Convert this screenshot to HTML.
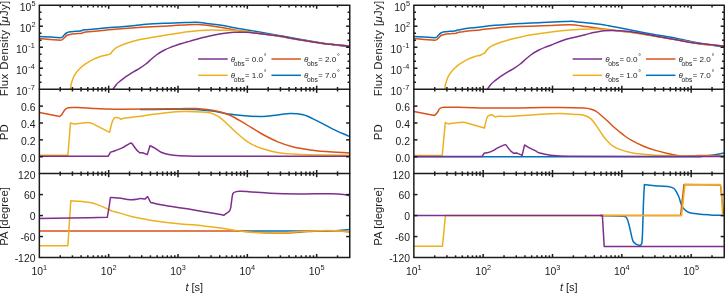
<!DOCTYPE html>
<html><head><meta charset="utf-8"><style>
html,body{margin:0;padding:0;background:#fff;}
svg{display:block;will-change:transform;}
text{font-family:"Liberation Sans", sans-serif;fill:#1c1c1c;}
</style></head><body>
<svg width="725" height="293" viewBox="0 0 725 293">
<rect width="725" height="293" fill="#fff"/>
<path d="M39.50,36.60 C43.00,36.77 46.50,36.92 50.00,37.10 C53.50,37.28 57.00,37.50 60.50,37.70 C61.17,37.47 61.96,37.42 62.50,37.00 C63.26,36.42 63.70,35.40 64.40,34.70 C65.03,34.07 65.74,33.47 66.50,33.00 C67.21,32.57 67.99,32.16 68.80,32.00 C70.82,31.60 72.93,31.48 75.00,31.30 C76.73,31.15 78.48,31.16 80.20,31.00 C80.64,30.96 81.07,30.80 81.50,30.70 C82.03,30.50 82.55,30.22 83.10,30.10 C83.88,29.92 84.70,29.88 85.50,29.80 C87.00,29.65 88.50,29.53 90.00,29.40 C93.33,29.10 96.67,28.80 100.00,28.50 C103.33,28.20 106.67,27.88 110.00,27.60 C113.00,27.35 116.00,27.15 119.00,26.90 C124.33,26.45 129.67,26.01 135.00,25.50 C138.67,25.15 142.32,24.56 146.00,24.30 C153.32,23.79 160.66,23.52 168.00,23.20 C173.66,22.95 179.33,22.78 185.00,22.60 C188.93,22.48 192.88,22.16 196.80,22.30 C200.11,22.42 203.40,22.99 206.70,23.40 C213.14,24.19 219.60,24.88 226.00,25.90 C228.83,26.35 231.58,27.28 234.40,27.80 C241.78,29.15 249.21,30.22 256.60,31.50 C264.01,32.78 271.40,34.17 278.80,35.50 C286.20,36.83 293.59,38.20 301.00,39.50 C308.39,40.80 315.78,42.16 323.20,43.30 C332.05,44.66 340.93,45.77 349.80,47.00" fill="none" stroke="#0072BD" stroke-width="1.5" stroke-linejoin="round" stroke-linecap="butt"/>
<path d="M39.50,38.60 C43.00,38.87 46.50,39.13 50.00,39.40 C53.50,39.67 57.02,40.11 60.50,40.20 C61.09,40.21 61.63,39.87 62.20,39.70 C62.97,39.07 63.78,38.48 64.50,37.80 C65.25,37.08 65.71,35.96 66.60,35.50 C68.24,34.66 70.23,34.21 72.10,33.90 C74.03,33.58 76.04,33.73 78.00,33.60 C79.17,33.53 80.33,33.40 81.50,33.30 C82.17,33.07 82.82,32.78 83.50,32.60 C84.32,32.38 85.16,32.20 86.00,32.10 C88.99,31.74 92.00,31.50 95.00,31.20 C98.33,30.87 101.67,30.53 105.00,30.20 C108.33,29.87 111.66,29.48 115.00,29.20 C121.66,28.64 128.33,28.15 135.00,27.70 C138.66,27.45 142.33,27.30 146.00,27.10 C153.33,26.70 160.67,26.31 168.00,25.90 C173.67,25.58 179.33,25.20 185.00,24.90 C188.93,24.70 192.87,24.35 196.80,24.40 C200.10,24.45 203.42,24.77 206.70,25.20 C213.15,26.04 219.58,27.11 226.00,28.20 C228.82,28.68 231.58,29.45 234.40,29.90 C240.31,30.85 246.27,31.56 252.20,32.40 C261.07,33.66 269.95,34.80 278.80,36.20 C286.22,37.37 293.58,38.90 301.00,40.10 C308.38,41.30 315.78,42.46 323.20,43.40 C332.05,44.52 340.93,45.33 349.80,46.30" fill="none" stroke="#D95319" stroke-width="1.5" stroke-linejoin="round" stroke-linecap="butt"/>
<path d="M70.50,89.50 C70.60,88.33 70.65,87.16 70.80,86.00 C70.91,85.13 71.02,84.23 71.30,83.40 C72.18,80.80 72.98,78.09 74.30,75.70 C75.52,73.49 77.17,71.45 78.90,69.60 C80.77,67.61 82.88,65.79 85.10,64.20 C87.52,62.46 90.14,60.94 92.80,59.60 C95.24,58.37 97.81,57.36 100.40,56.50 C102.41,55.83 104.54,55.52 106.60,55.00 C107.84,54.69 109.07,54.33 110.30,54.00 C111.10,53.00 111.85,51.95 112.70,51.00 C113.55,50.05 114.38,49.04 115.40,48.30 C116.48,47.51 117.76,46.95 119.00,46.40 C121.53,45.28 124.09,44.20 126.70,43.30 C130.05,42.14 133.46,41.06 136.90,40.20 C140.29,39.36 143.76,38.83 147.20,38.20 C150.13,37.66 153.07,37.19 156.00,36.70 C160.00,36.03 163.99,35.33 168.00,34.70 C171.99,34.07 175.99,33.46 180.00,32.90 C183.36,32.43 186.73,31.99 190.10,31.60 C193.39,31.22 196.69,30.87 200.00,30.60 C203.33,30.33 206.66,30.04 210.00,30.00 C215.33,29.94 220.67,30.21 226.00,30.30 C228.80,30.35 231.61,30.26 234.40,30.40 C238.11,30.59 241.82,30.87 245.50,31.30 C249.22,31.74 252.90,32.46 256.60,33.00 C264.00,34.09 271.42,35.02 278.80,36.20 C286.22,37.39 293.58,38.90 301.00,40.10 C308.38,41.30 315.78,42.46 323.20,43.40 C332.05,44.52 340.93,45.33 349.80,46.30" fill="none" stroke="#EDB120" stroke-width="1.5" stroke-linejoin="round" stroke-linecap="butt"/>
<path d="M112.90,89.50 C113.93,87.97 114.82,86.31 116.00,84.90 C117.05,83.64 118.34,82.56 119.60,81.50 C121.11,80.23 122.70,79.05 124.30,77.90 C125.86,76.78 127.48,75.74 129.10,74.70 C130.68,73.68 132.29,72.68 133.90,71.70 C135.89,70.48 137.94,69.37 139.90,68.10 C141.91,66.80 143.90,65.45 145.80,64.00 C147.26,62.88 148.60,61.60 150.00,60.40 C152.10,58.60 154.06,56.61 156.30,55.00 C158.89,53.14 161.68,51.49 164.50,50.00 C166.84,48.76 169.34,47.79 171.80,46.80 C173.30,46.19 174.85,45.69 176.40,45.20 C179.25,44.29 182.13,43.46 185.00,42.60 C186.67,42.10 188.33,41.58 190.00,41.10 C193.66,40.05 197.31,38.93 201.00,38.00 C204.71,37.06 208.46,36.28 212.20,35.50 C215.79,34.75 219.37,33.92 223.00,33.40 C226.77,32.86 230.59,32.49 234.40,32.30 C238.09,32.12 241.81,32.13 245.50,32.30 C249.21,32.47 252.91,32.88 256.60,33.30 C264.01,34.15 271.43,34.97 278.80,36.10 C286.23,37.24 293.58,38.88 301.00,40.10 C308.38,41.31 315.78,42.47 323.20,43.40 C332.04,44.51 340.93,45.27 349.80,46.20" fill="none" stroke="#7E2F8E" stroke-width="1.5" stroke-linejoin="round" stroke-linecap="butt"/>
<path d="M140.00,109.50 C145.00,109.50 150.00,109.54 155.00,109.50 C163.33,109.44 171.67,109.22 180.00,109.20 C185.40,109.19 190.81,109.08 196.20,109.40 C201.61,109.72 207.03,110.34 212.40,111.10 C217.86,111.87 223.24,113.21 228.70,114.00 C234.07,114.78 239.49,115.40 244.90,115.80 C250.29,116.20 255.71,116.55 261.10,116.40 C266.51,116.25 271.91,115.45 277.30,114.90 C281.64,114.45 285.96,113.42 290.30,113.40 C294.63,113.38 299.14,113.68 303.30,114.80 C307.77,116.01 311.98,118.37 316.20,120.40 C321.68,123.04 326.93,126.15 332.40,128.80 C338.09,131.55 343.93,134.00 349.70,136.60" fill="none" stroke="#0072BD" stroke-width="1.5" stroke-linejoin="round" stroke-linecap="butt"/>
<path d="M39.50,112.40 L59.70,116.50 C60.47,115.73 61.33,115.05 62.00,114.20 C63.13,112.75 63.85,110.91 65.10,109.60 C65.92,108.74 67.04,107.89 68.20,107.70 C71.14,107.22 74.34,107.51 77.40,107.60 C82.54,107.75 87.67,108.15 92.80,108.40 C97.90,108.65 103.00,108.92 108.10,109.10 C111.73,109.22 115.37,109.31 119.00,109.30 C131.00,109.27 143.00,109.12 155.00,109.00 C163.33,108.92 171.67,108.80 180.00,108.70 C185.40,108.63 190.82,108.23 196.20,108.50 C201.62,108.77 207.08,109.27 212.40,110.30 C217.92,111.37 223.52,112.68 228.70,114.80 C234.35,117.11 239.58,120.53 244.90,123.60 C250.38,126.76 255.57,130.43 261.10,133.50 C266.37,136.43 271.75,139.27 277.30,141.60 C282.55,143.80 287.99,145.69 293.50,147.10 C298.79,148.46 304.27,149.17 309.70,149.90 C315.11,150.63 320.56,151.06 326.00,151.50 C333.89,152.13 341.80,152.57 349.70,153.10" fill="none" stroke="#D95319" stroke-width="1.5" stroke-linejoin="round" stroke-linecap="butt"/>
<path d="M39.50,155.30 L67.90,155.30 L70.50,123.00 L74.30,123.90 C78.90,123.47 83.52,122.73 88.10,122.60 C89.42,122.56 90.70,123.13 92.00,123.40 L109.60,132.30 C110.40,129.07 110.97,125.75 112.00,122.60 C112.53,120.98 113.25,119.15 114.30,118.00 C114.78,117.48 115.83,117.66 116.60,117.60 C117.10,117.56 117.60,117.67 118.10,117.70 L121.10,119.30 L123.40,118.30 C128.27,117.70 133.14,117.16 138.00,116.50 C143.14,115.80 148.26,114.88 153.40,114.20 C158.52,113.52 163.65,112.84 168.80,112.40 C173.89,111.97 179.00,111.74 184.10,111.60 C187.73,111.50 191.37,111.58 195.00,111.70 C198.47,111.81 201.95,111.92 205.40,112.30 C207.75,112.56 210.19,112.80 212.40,113.60 C215.06,114.57 217.69,115.94 220.00,117.60 C223.12,119.84 225.85,122.68 228.70,125.30 C231.35,127.74 233.81,130.40 236.50,132.80 C239.21,135.23 241.98,137.63 244.90,139.80 C247.15,141.47 249.52,143.01 252.00,144.30 C254.92,145.81 257.97,147.20 261.10,148.20 C266.40,149.90 271.83,151.40 277.30,152.40 C282.46,153.34 287.76,153.63 293.00,154.00 C298.56,154.39 304.13,154.58 309.70,154.70 C323.03,154.98 336.37,155.03 349.70,155.20" fill="none" stroke="#EDB120" stroke-width="1.5" stroke-linejoin="round" stroke-linecap="butt"/>
<path d="M39.50,156.30 L108.10,156.30 L110.40,152.30 C111.17,152.03 111.93,151.77 112.70,151.50 C113.47,151.23 114.24,150.99 115.00,150.70 C117.57,149.72 120.24,148.91 122.70,147.70 C125.37,146.38 127.79,144.29 130.40,143.10 C130.85,142.89 131.40,143.37 131.90,143.50 C133.43,145.57 134.85,147.73 136.50,149.70 C137.42,150.80 138.57,151.70 139.60,152.70 L142.60,152.70 L147.30,154.60 L150.00,145.70 C151.63,146.50 153.34,147.17 154.90,148.10 C157.04,149.37 158.87,151.25 161.10,152.30 C163.50,153.42 166.18,154.10 168.80,154.60 C172.31,155.27 175.92,155.57 179.50,155.80 C184.65,156.13 189.83,156.28 195.00,156.30 C246.56,156.45 298.13,156.30 349.70,156.30" fill="none" stroke="#7E2F8E" stroke-width="1.5" stroke-linejoin="round" stroke-linecap="butt"/>
<path d="M236.00,231.00 C238.33,231.03 240.67,231.09 243.00,231.10 C252.00,231.13 261.00,231.10 270.00,231.10 C283.83,231.10 297.67,231.16 311.50,231.10 C319.17,231.06 326.84,231.10 334.50,230.80 C339.58,230.60 344.63,230.00 349.70,229.60" fill="none" stroke="#0072BD" stroke-width="1.5" stroke-linejoin="round" stroke-linecap="butt"/>
<path d="M39.50,231.00 C105.67,231.00 171.85,230.63 238.00,231.00 C243.68,231.03 249.33,231.85 255.00,232.20 C260.00,232.51 265.00,232.85 270.00,233.00 C275.13,233.15 280.27,233.29 285.40,233.10 C293.07,232.82 300.73,232.06 308.40,231.60 C313.53,231.29 318.66,230.95 323.80,230.80 C327.86,230.68 331.94,230.63 336.00,230.80 C340.57,230.99 345.13,231.53 349.70,231.90" fill="none" stroke="#D95319" stroke-width="1.5" stroke-linejoin="round" stroke-linecap="butt"/>
<path d="M39.50,245.70 L67.90,245.70 L70.80,200.70 C73.87,200.90 76.94,201.03 80.00,201.30 C82.67,201.53 85.35,201.82 88.00,202.20 C89.78,202.45 91.57,202.73 93.30,203.20 C94.90,203.63 96.44,204.31 98.00,204.90 C99.68,205.54 101.35,206.20 103.00,206.90 C104.35,207.47 105.69,208.06 107.00,208.70 C108.02,209.19 108.97,209.85 110.00,210.30 C110.80,210.65 111.66,210.86 112.50,211.10 C113.32,211.33 114.17,211.48 115.00,211.70 C116.67,212.15 118.34,212.62 120.00,213.10 C123.84,214.22 127.62,215.56 131.50,216.50 C136.18,217.63 140.96,218.41 145.70,219.30 C148.93,219.91 152.15,220.54 155.40,221.00 C162.38,221.98 169.38,222.89 176.40,223.60 C182.92,224.26 189.47,224.51 196.00,225.10 C199.14,225.38 202.27,225.83 205.40,226.20 C210.50,226.80 215.62,227.27 220.70,228.00 C225.85,228.74 230.95,229.88 236.10,230.60 C241.18,231.31 246.28,231.95 251.40,232.30 C257.58,232.72 263.80,232.83 270.00,232.90 C275.13,232.96 280.27,232.92 285.40,232.70 C290.51,232.48 295.60,231.89 300.70,231.60 C307.36,231.22 314.03,230.85 320.70,230.70 C325.80,230.58 330.91,230.59 336.00,230.80 C340.57,230.99 345.13,231.53 349.70,231.90" fill="none" stroke="#EDB120" stroke-width="1.5" stroke-linejoin="round" stroke-linecap="butt"/>
<path d="M39.50,218.50 C49.57,218.33 59.63,218.18 69.70,218.00 C82.23,217.78 94.77,217.53 107.30,217.30 C107.83,214.20 108.41,211.11 108.90,208.00 C109.44,204.54 109.90,201.07 110.40,197.60 C111.93,197.63 113.47,197.63 115.00,197.70 C116.34,197.76 117.67,197.83 119.00,198.00 C122.81,198.49 126.59,199.48 130.40,199.70 C132.92,199.85 135.49,199.43 138.00,199.10 C138.56,199.03 139.04,198.50 139.60,198.50 C141.38,198.50 143.20,198.90 145.00,199.10 L147.60,196.50 L150.60,202.40 C154.10,203.17 157.58,204.03 161.10,204.70 C166.18,205.66 171.29,206.49 176.40,207.30 C180.92,208.02 185.47,208.58 190.00,209.30 C195.14,210.12 200.27,211.03 205.40,211.90 C210.50,212.76 215.62,213.56 220.70,214.50 C221.75,214.69 222.77,215.03 223.80,215.30 C225.83,213.63 228.67,212.44 229.90,210.30 C231.24,207.98 230.99,204.70 231.50,201.90 C232.02,199.07 231.92,195.83 233.00,193.40 C233.45,192.39 234.98,191.91 236.10,191.60 C237.54,191.21 239.17,191.29 240.70,191.30 C243.27,191.32 245.84,191.53 248.40,191.70 C255.60,192.17 262.79,192.90 270.00,193.20 C280.22,193.63 290.47,193.80 300.70,193.90 C310.93,194.00 321.17,193.66 331.40,193.80 C335.50,193.86 339.62,194.10 343.70,194.50 C345.72,194.70 347.70,195.23 349.70,195.60" fill="none" stroke="#7E2F8E" stroke-width="1.5" stroke-linejoin="round" stroke-linecap="butt"/>
<path d="M413.90,36.60 C417.40,36.77 420.90,36.92 424.40,37.10 C427.90,37.28 431.40,37.50 434.90,37.70 C435.57,37.47 436.36,37.42 436.90,37.00 C437.66,36.42 438.10,35.40 438.80,34.70 C439.43,34.07 440.14,33.47 440.90,33.00 C441.61,32.57 442.39,32.16 443.20,32.00 C445.22,31.60 447.33,31.48 449.40,31.30 C451.13,31.15 452.88,31.16 454.60,31.00 C455.04,30.96 455.47,30.80 455.90,30.70 C456.43,30.50 456.95,30.22 457.50,30.10 C458.28,29.92 459.11,29.94 459.90,29.80 C461.94,29.44 463.95,28.91 466.00,28.60 C468.32,28.25 470.67,28.07 473.00,27.80 C475.33,27.53 477.67,27.29 480.00,27.00 C481.40,26.82 482.80,26.56 484.20,26.40 C487.80,25.99 491.40,25.63 495.00,25.30 C498.73,24.96 502.46,24.65 506.20,24.40 C510.80,24.09 515.40,23.86 520.00,23.60 C527.33,23.19 534.66,22.73 542.00,22.40 C549.36,22.07 556.73,21.87 564.10,21.60 C566.70,21.50 569.31,21.19 571.90,21.30 C574.84,21.42 577.76,21.99 580.70,22.30 C587.13,22.99 593.58,23.51 600.00,24.30 C602.82,24.65 605.61,25.18 608.40,25.70 C615.81,27.08 623.20,28.58 630.60,30.00 C638.00,31.42 645.39,32.85 652.80,34.20 C660.19,35.55 667.62,36.67 675.00,38.10 C682.42,39.54 689.76,41.44 697.20,42.80 C706.13,44.44 715.13,45.67 724.10,47.10" fill="none" stroke="#0072BD" stroke-width="1.5" stroke-linejoin="round" stroke-linecap="butt"/>
<path d="M413.90,38.60 C417.40,38.87 420.90,39.13 424.40,39.40 C427.90,39.67 431.42,40.11 434.90,40.20 C435.49,40.21 436.03,39.87 436.60,39.70 C437.37,39.07 438.18,38.48 438.90,37.80 C439.65,37.08 440.11,35.96 441.00,35.50 C442.64,34.66 444.63,34.21 446.50,33.90 C448.43,33.58 450.44,33.73 452.40,33.60 C453.57,33.53 454.73,33.40 455.90,33.30 C456.57,33.07 457.22,32.78 457.90,32.60 C458.72,32.38 459.56,32.24 460.40,32.10 C462.26,31.78 464.12,31.42 466.00,31.20 C468.32,30.92 470.67,30.82 473.00,30.60 C475.33,30.38 477.67,30.17 480.00,29.90 C481.40,29.74 482.80,29.46 484.20,29.30 C487.80,28.89 491.40,28.53 495.00,28.20 C498.73,27.86 502.46,27.54 506.20,27.30 C510.80,27.01 515.40,26.79 520.00,26.60 C527.33,26.29 534.67,26.09 542.00,25.80 C548.00,25.56 554.00,25.24 560.00,25.00 C563.23,24.87 566.47,24.72 569.70,24.70 C571.53,24.69 573.38,24.69 575.20,24.90 C578.88,25.32 582.53,26.07 586.20,26.60 C590.80,27.27 595.40,27.88 600.00,28.50 C602.80,28.88 605.60,29.23 608.40,29.60 C612.10,30.09 615.79,30.65 619.50,31.10 C623.19,31.55 626.91,31.79 630.60,32.30 C638.01,33.32 645.41,34.49 652.80,35.70 C660.21,36.92 667.60,38.32 675.00,39.60 C682.40,40.88 689.76,42.40 697.20,43.40 C706.13,44.60 715.13,45.27 724.10,46.20" fill="none" stroke="#D95319" stroke-width="1.5" stroke-linejoin="round" stroke-linecap="butt"/>
<path d="M444.90,89.50 C445.00,88.33 445.05,87.16 445.20,86.00 C445.31,85.13 445.42,84.23 445.70,83.40 C446.58,80.80 447.38,78.09 448.70,75.70 C449.92,73.49 451.57,71.45 453.30,69.60 C455.17,67.61 457.28,65.79 459.50,64.20 C461.92,62.46 464.54,60.94 467.20,59.60 C469.64,58.37 472.21,57.36 474.80,56.50 C476.81,55.83 479.01,55.70 481.00,55.00 C482.31,54.54 483.47,53.67 484.70,53.00 C485.60,51.80 486.35,50.45 487.40,49.40 C488.62,48.18 489.98,47.01 491.50,46.20 C494.42,44.64 497.57,43.43 500.70,42.30 C504.04,41.10 507.47,40.10 510.90,39.20 C514.30,38.30 517.76,37.64 521.20,36.90 C524.13,36.27 527.05,35.62 530.00,35.10 C533.99,34.39 537.99,33.79 542.00,33.20 C545.66,32.66 549.33,32.15 553.00,31.70 C556.69,31.25 560.39,30.82 564.10,30.50 C569.63,30.02 575.16,29.53 580.70,29.30 C586.23,29.07 591.77,28.96 597.30,29.10 C601.01,29.19 604.70,29.67 608.40,30.00 C612.10,30.33 615.80,30.72 619.50,31.10 C623.20,31.48 626.91,31.79 630.60,32.30 C638.01,33.32 645.41,34.49 652.80,35.70 C660.21,36.92 667.60,38.32 675.00,39.60 C682.40,40.88 689.76,42.40 697.20,43.40 C706.13,44.60 715.13,45.27 724.10,46.20" fill="none" stroke="#EDB120" stroke-width="1.5" stroke-linejoin="round" stroke-linecap="butt"/>
<path d="M487.30,89.50 C488.33,87.97 489.22,86.31 490.40,84.90 C491.45,83.64 492.74,82.56 494.00,81.50 C495.51,80.23 497.10,79.05 498.70,77.90 C500.26,76.78 501.88,75.74 503.50,74.70 C505.08,73.68 506.69,72.68 508.30,71.70 C510.29,70.48 512.34,69.37 514.30,68.10 C516.31,66.80 518.30,65.45 520.20,64.00 C521.66,62.88 523.00,61.60 524.40,60.40 C526.50,58.60 528.46,56.61 530.70,55.00 C533.29,53.14 536.08,51.49 538.90,50.00 C541.24,48.76 543.74,47.79 546.20,46.80 C547.70,46.19 549.28,45.78 550.80,45.20 C555.22,43.51 559.52,41.48 564.00,40.00 C567.59,38.81 571.33,38.13 575.00,37.20 C578.73,36.26 582.46,35.32 586.20,34.40 C589.13,33.68 592.05,32.90 595.00,32.30 C597.98,31.70 600.98,31.07 604.00,30.80 C607.68,30.47 611.41,30.36 615.10,30.50 C620.27,30.69 625.46,31.12 630.60,31.80 C638.03,32.79 645.41,34.22 652.80,35.50 C660.21,36.78 667.59,38.20 675.00,39.50 C682.39,40.80 689.76,42.32 697.20,43.30 C706.13,44.48 715.13,45.10 724.10,46.00" fill="none" stroke="#7E2F8E" stroke-width="1.5" stroke-linejoin="round" stroke-linecap="butt"/>
<path d="M413.90,156.80 C509.27,156.80 604.65,157.06 700.00,156.80 C701.82,156.80 703.60,156.24 705.40,156.00 C709.00,155.51 712.62,155.17 716.20,154.60 C718.85,154.17 721.47,153.53 724.10,153.00" fill="none" stroke="#0072BD" stroke-width="1.5" stroke-linejoin="round" stroke-linecap="butt"/>
<path d="M413.90,111.40 L434.50,115.40 C435.33,114.60 436.29,113.90 437.00,113.00 C438.09,111.60 438.62,109.59 439.90,108.50 C440.85,107.69 442.38,107.38 443.70,107.30 C448.78,106.98 453.97,107.22 459.10,107.30 C470.40,107.48 481.70,108.02 493.00,108.10 C505.33,108.19 517.67,107.93 530.00,107.80 C540.00,107.70 550.00,107.34 560.00,107.40 C567.97,107.44 575.95,107.64 583.90,108.10 C586.29,108.24 588.70,108.60 591.00,109.20 C592.67,109.63 594.33,110.32 595.80,111.20 C597.66,112.32 599.33,113.79 601.00,115.20 C603.33,117.16 605.57,119.23 607.80,121.30 C609.74,123.10 611.54,125.04 613.50,126.80 C615.50,128.60 617.60,130.30 619.70,132.00 C621.60,133.54 623.50,135.09 625.50,136.50 C627.47,137.89 629.48,139.25 631.60,140.40 C635.51,142.52 639.50,144.58 643.60,146.30 C647.46,147.92 651.49,149.19 655.50,150.40 C659.45,151.59 663.47,152.61 667.50,153.50 C671.44,154.37 675.40,155.31 679.40,155.70 C683.33,156.08 687.33,155.84 691.30,155.80 C696.87,155.74 702.44,155.35 708.00,155.40 C713.37,155.45 718.73,155.87 724.10,156.10" fill="none" stroke="#D95319" stroke-width="1.5" stroke-linejoin="round" stroke-linecap="butt"/>
<path d="M413.90,155.50 L442.20,155.50 L445.30,122.60 L448.30,123.90 C453.43,123.37 458.58,122.55 463.70,122.30 C464.75,122.25 465.77,122.77 466.80,123.00 L484.40,128.00 C485.43,124.17 485.90,119.86 487.50,116.50 C487.96,115.53 489.54,115.42 490.60,115.00 C491.07,114.82 491.60,114.80 492.10,114.70 L495.10,117.00 C496.13,116.73 497.15,116.26 498.20,116.20 C500.25,116.09 502.33,116.55 504.40,116.50 C509.50,116.38 514.60,116.00 519.70,115.70 C524.84,115.40 529.97,115.03 535.10,114.70 C540.20,114.37 545.30,113.97 550.40,113.70 C553.60,113.53 556.80,113.31 560.00,113.40 C565.00,113.54 570.01,114.00 575.00,114.40 C577.97,114.64 581.08,114.51 583.90,115.30 C586.41,116.01 589.09,117.15 591.00,118.90 C593.86,121.52 595.90,125.16 598.20,128.40 C599.90,130.80 601.27,133.43 603.00,135.80 C604.47,137.83 606.07,139.80 607.80,141.60 C609.40,143.26 611.08,144.94 613.00,146.20 C615.05,147.54 617.38,148.58 619.70,149.40 C623.58,150.78 627.57,151.97 631.60,152.80 C635.54,153.61 639.59,153.90 643.60,154.30 C647.56,154.70 651.53,155.00 655.50,155.20 C663.46,155.60 671.43,155.97 679.40,156.10 C694.30,156.34 709.20,156.23 724.10,156.30" fill="none" stroke="#EDB120" stroke-width="1.5" stroke-linejoin="round" stroke-linecap="butt"/>
<path d="M413.90,156.40 L482.10,156.40 L484.40,153.00 C485.70,152.87 487.05,152.93 488.30,152.60 C489.92,152.17 491.49,151.45 493.00,150.70 C494.29,150.05 495.41,149.06 496.70,148.40 C499.21,147.12 501.80,145.89 504.40,144.90 C504.86,144.72 505.40,144.90 505.90,144.90 C507.43,146.83 508.84,148.89 510.50,150.70 C511.41,151.69 512.57,152.43 513.60,153.30 L516.60,153.00 C518.17,153.63 519.83,154.14 521.30,154.90 C521.63,155.07 521.77,155.50 522.00,155.80 L524.60,144.90 C526.03,145.83 527.41,146.87 528.90,147.70 C530.91,148.81 533.04,149.69 535.10,150.70 C536.64,151.46 538.07,152.52 539.70,153.00 C543.17,154.02 546.79,154.79 550.40,155.20 C556.56,155.89 562.79,156.26 569.00,156.30 C620.69,156.66 672.40,156.37 724.10,156.40" fill="none" stroke="#7E2F8E" stroke-width="1.5" stroke-linejoin="round" stroke-linecap="butt"/>
<path d="M600.00,215.60 C608.00,215.80 616.22,215.36 624.00,216.20 C625.22,216.33 626.49,217.40 627.00,218.50 C628.49,221.67 629.07,225.48 630.00,229.00 C631.07,233.02 631.51,237.34 633.00,241.10 C633.51,242.38 634.82,243.39 636.00,244.10 C637.32,244.89 639.00,245.10 640.50,245.60 C641.00,244.60 641.92,243.71 642.00,242.60 C642.92,229.17 642.94,215.53 643.50,202.00 C643.74,196.20 644.10,190.40 644.40,184.60 C645.60,184.70 646.80,184.78 648.00,184.90 C652.00,185.28 655.99,185.80 660.00,186.10 C662.66,186.30 665.40,185.95 668.00,186.40 C670.07,186.75 672.53,187.15 674.00,188.50 C676.03,190.35 677.30,193.36 678.50,196.00 C679.80,198.86 680.23,202.13 681.50,205.00 C682.23,206.63 683.25,208.25 684.50,209.50 C685.75,210.75 687.33,211.94 689.00,212.50 C691.83,213.44 694.98,213.66 698.00,214.00 C701.98,214.46 706.00,214.67 710.00,214.90 C714.70,215.17 719.40,215.30 724.10,215.50" fill="none" stroke="#0072BD" stroke-width="1.5" stroke-linejoin="round" stroke-linecap="butt"/>
<path d="M600.00,215.60 L680.60,215.40 L684.00,184.40 L720.50,185.00 L723.50,214.20" fill="none" stroke="#D95319" stroke-width="1.5" stroke-linejoin="round" stroke-linecap="butt"/>
<path d="M413.90,246.30 L442.50,246.30 L445.40,215.60 L681.60,215.40 L685.00,184.40 L720.10,184.40 C720.50,185.83 721.18,187.22 721.30,188.70 C721.98,197.09 722.10,205.57 722.50,214.00" fill="none" stroke="#EDB120" stroke-width="1.5" stroke-linejoin="round" stroke-linecap="butt"/>
<path d="M413.90,215.60 L602.40,215.60 L604.20,246.50 L724.10,246.50" fill="none" stroke="#7E2F8E" stroke-width="1.5" stroke-linejoin="round" stroke-linecap="butt"/>
<line x1="60.22" y1="89.25" x2="60.22" y2="87.05" stroke="#1c1c1c" stroke-width="1.5"/>
<line x1="60.22" y1="5.20" x2="60.22" y2="7.40" stroke="#1c1c1c" stroke-width="1.5"/>
<line x1="72.43" y1="89.25" x2="72.43" y2="87.05" stroke="#1c1c1c" stroke-width="1.5"/>
<line x1="72.43" y1="5.20" x2="72.43" y2="7.40" stroke="#1c1c1c" stroke-width="1.5"/>
<line x1="81.09" y1="89.25" x2="81.09" y2="87.05" stroke="#1c1c1c" stroke-width="1.5"/>
<line x1="81.09" y1="5.20" x2="81.09" y2="7.40" stroke="#1c1c1c" stroke-width="1.5"/>
<line x1="87.81" y1="89.25" x2="87.81" y2="87.05" stroke="#1c1c1c" stroke-width="1.5"/>
<line x1="87.81" y1="5.20" x2="87.81" y2="7.40" stroke="#1c1c1c" stroke-width="1.5"/>
<line x1="93.30" y1="89.25" x2="93.30" y2="87.05" stroke="#1c1c1c" stroke-width="1.5"/>
<line x1="93.30" y1="5.20" x2="93.30" y2="7.40" stroke="#1c1c1c" stroke-width="1.5"/>
<line x1="97.94" y1="89.25" x2="97.94" y2="87.05" stroke="#1c1c1c" stroke-width="1.5"/>
<line x1="97.94" y1="5.20" x2="97.94" y2="7.40" stroke="#1c1c1c" stroke-width="1.5"/>
<line x1="101.96" y1="89.25" x2="101.96" y2="87.05" stroke="#1c1c1c" stroke-width="1.5"/>
<line x1="101.96" y1="5.20" x2="101.96" y2="7.40" stroke="#1c1c1c" stroke-width="1.5"/>
<line x1="105.51" y1="89.25" x2="105.51" y2="87.05" stroke="#1c1c1c" stroke-width="1.5"/>
<line x1="105.51" y1="5.20" x2="105.51" y2="7.40" stroke="#1c1c1c" stroke-width="1.5"/>
<line x1="108.68" y1="89.25" x2="108.68" y2="85.65" stroke="#1c1c1c" stroke-width="1.5"/>
<line x1="108.68" y1="5.20" x2="108.68" y2="8.80" stroke="#1c1c1c" stroke-width="1.5"/>
<line x1="129.55" y1="89.25" x2="129.55" y2="87.05" stroke="#1c1c1c" stroke-width="1.5"/>
<line x1="129.55" y1="5.20" x2="129.55" y2="7.40" stroke="#1c1c1c" stroke-width="1.5"/>
<line x1="141.76" y1="89.25" x2="141.76" y2="87.05" stroke="#1c1c1c" stroke-width="1.5"/>
<line x1="141.76" y1="5.20" x2="141.76" y2="7.40" stroke="#1c1c1c" stroke-width="1.5"/>
<line x1="150.42" y1="89.25" x2="150.42" y2="87.05" stroke="#1c1c1c" stroke-width="1.5"/>
<line x1="150.42" y1="5.20" x2="150.42" y2="7.40" stroke="#1c1c1c" stroke-width="1.5"/>
<line x1="157.14" y1="89.25" x2="157.14" y2="87.05" stroke="#1c1c1c" stroke-width="1.5"/>
<line x1="157.14" y1="5.20" x2="157.14" y2="7.40" stroke="#1c1c1c" stroke-width="1.5"/>
<line x1="162.63" y1="89.25" x2="162.63" y2="87.05" stroke="#1c1c1c" stroke-width="1.5"/>
<line x1="162.63" y1="5.20" x2="162.63" y2="7.40" stroke="#1c1c1c" stroke-width="1.5"/>
<line x1="167.27" y1="89.25" x2="167.27" y2="87.05" stroke="#1c1c1c" stroke-width="1.5"/>
<line x1="167.27" y1="5.20" x2="167.27" y2="7.40" stroke="#1c1c1c" stroke-width="1.5"/>
<line x1="171.29" y1="89.25" x2="171.29" y2="87.05" stroke="#1c1c1c" stroke-width="1.5"/>
<line x1="171.29" y1="5.20" x2="171.29" y2="7.40" stroke="#1c1c1c" stroke-width="1.5"/>
<line x1="174.84" y1="89.25" x2="174.84" y2="87.05" stroke="#1c1c1c" stroke-width="1.5"/>
<line x1="174.84" y1="5.20" x2="174.84" y2="7.40" stroke="#1c1c1c" stroke-width="1.5"/>
<line x1="178.01" y1="89.25" x2="178.01" y2="85.65" stroke="#1c1c1c" stroke-width="1.5"/>
<line x1="178.01" y1="5.20" x2="178.01" y2="8.80" stroke="#1c1c1c" stroke-width="1.5"/>
<line x1="198.88" y1="89.25" x2="198.88" y2="87.05" stroke="#1c1c1c" stroke-width="1.5"/>
<line x1="198.88" y1="5.20" x2="198.88" y2="7.40" stroke="#1c1c1c" stroke-width="1.5"/>
<line x1="211.09" y1="89.25" x2="211.09" y2="87.05" stroke="#1c1c1c" stroke-width="1.5"/>
<line x1="211.09" y1="5.20" x2="211.09" y2="7.40" stroke="#1c1c1c" stroke-width="1.5"/>
<line x1="219.75" y1="89.25" x2="219.75" y2="87.05" stroke="#1c1c1c" stroke-width="1.5"/>
<line x1="219.75" y1="5.20" x2="219.75" y2="7.40" stroke="#1c1c1c" stroke-width="1.5"/>
<line x1="226.47" y1="89.25" x2="226.47" y2="87.05" stroke="#1c1c1c" stroke-width="1.5"/>
<line x1="226.47" y1="5.20" x2="226.47" y2="7.40" stroke="#1c1c1c" stroke-width="1.5"/>
<line x1="231.96" y1="89.25" x2="231.96" y2="87.05" stroke="#1c1c1c" stroke-width="1.5"/>
<line x1="231.96" y1="5.20" x2="231.96" y2="7.40" stroke="#1c1c1c" stroke-width="1.5"/>
<line x1="236.60" y1="89.25" x2="236.60" y2="87.05" stroke="#1c1c1c" stroke-width="1.5"/>
<line x1="236.60" y1="5.20" x2="236.60" y2="7.40" stroke="#1c1c1c" stroke-width="1.5"/>
<line x1="240.62" y1="89.25" x2="240.62" y2="87.05" stroke="#1c1c1c" stroke-width="1.5"/>
<line x1="240.62" y1="5.20" x2="240.62" y2="7.40" stroke="#1c1c1c" stroke-width="1.5"/>
<line x1="244.17" y1="89.25" x2="244.17" y2="87.05" stroke="#1c1c1c" stroke-width="1.5"/>
<line x1="244.17" y1="5.20" x2="244.17" y2="7.40" stroke="#1c1c1c" stroke-width="1.5"/>
<line x1="247.34" y1="89.25" x2="247.34" y2="85.65" stroke="#1c1c1c" stroke-width="1.5"/>
<line x1="247.34" y1="5.20" x2="247.34" y2="8.80" stroke="#1c1c1c" stroke-width="1.5"/>
<line x1="268.21" y1="89.25" x2="268.21" y2="87.05" stroke="#1c1c1c" stroke-width="1.5"/>
<line x1="268.21" y1="5.20" x2="268.21" y2="7.40" stroke="#1c1c1c" stroke-width="1.5"/>
<line x1="280.42" y1="89.25" x2="280.42" y2="87.05" stroke="#1c1c1c" stroke-width="1.5"/>
<line x1="280.42" y1="5.20" x2="280.42" y2="7.40" stroke="#1c1c1c" stroke-width="1.5"/>
<line x1="289.08" y1="89.25" x2="289.08" y2="87.05" stroke="#1c1c1c" stroke-width="1.5"/>
<line x1="289.08" y1="5.20" x2="289.08" y2="7.40" stroke="#1c1c1c" stroke-width="1.5"/>
<line x1="295.80" y1="89.25" x2="295.80" y2="87.05" stroke="#1c1c1c" stroke-width="1.5"/>
<line x1="295.80" y1="5.20" x2="295.80" y2="7.40" stroke="#1c1c1c" stroke-width="1.5"/>
<line x1="301.29" y1="89.25" x2="301.29" y2="87.05" stroke="#1c1c1c" stroke-width="1.5"/>
<line x1="301.29" y1="5.20" x2="301.29" y2="7.40" stroke="#1c1c1c" stroke-width="1.5"/>
<line x1="305.93" y1="89.25" x2="305.93" y2="87.05" stroke="#1c1c1c" stroke-width="1.5"/>
<line x1="305.93" y1="5.20" x2="305.93" y2="7.40" stroke="#1c1c1c" stroke-width="1.5"/>
<line x1="309.95" y1="89.25" x2="309.95" y2="87.05" stroke="#1c1c1c" stroke-width="1.5"/>
<line x1="309.95" y1="5.20" x2="309.95" y2="7.40" stroke="#1c1c1c" stroke-width="1.5"/>
<line x1="313.50" y1="89.25" x2="313.50" y2="87.05" stroke="#1c1c1c" stroke-width="1.5"/>
<line x1="313.50" y1="5.20" x2="313.50" y2="7.40" stroke="#1c1c1c" stroke-width="1.5"/>
<line x1="316.67" y1="89.25" x2="316.67" y2="85.65" stroke="#1c1c1c" stroke-width="1.5"/>
<line x1="316.67" y1="5.20" x2="316.67" y2="8.80" stroke="#1c1c1c" stroke-width="1.5"/>
<line x1="337.54" y1="89.25" x2="337.54" y2="87.05" stroke="#1c1c1c" stroke-width="1.5"/>
<line x1="337.54" y1="5.20" x2="337.54" y2="7.40" stroke="#1c1c1c" stroke-width="1.5"/>
<line x1="39.35" y1="12.20" x2="41.55" y2="12.20" stroke="#1c1c1c" stroke-width="1.5"/>
<line x1="349.75" y1="12.20" x2="347.55" y2="12.20" stroke="#1c1c1c" stroke-width="1.5"/>
<line x1="39.35" y1="19.21" x2="41.55" y2="19.21" stroke="#1c1c1c" stroke-width="1.5"/>
<line x1="349.75" y1="19.21" x2="347.55" y2="19.21" stroke="#1c1c1c" stroke-width="1.5"/>
<line x1="39.35" y1="26.21" x2="42.95" y2="26.21" stroke="#1c1c1c" stroke-width="1.5"/>
<line x1="349.75" y1="26.21" x2="346.15" y2="26.21" stroke="#1c1c1c" stroke-width="1.5"/>
<line x1="39.35" y1="33.22" x2="41.55" y2="33.22" stroke="#1c1c1c" stroke-width="1.5"/>
<line x1="349.75" y1="33.22" x2="347.55" y2="33.22" stroke="#1c1c1c" stroke-width="1.5"/>
<line x1="39.35" y1="40.22" x2="41.55" y2="40.22" stroke="#1c1c1c" stroke-width="1.5"/>
<line x1="349.75" y1="40.22" x2="347.55" y2="40.22" stroke="#1c1c1c" stroke-width="1.5"/>
<line x1="39.35" y1="47.23" x2="42.95" y2="47.23" stroke="#1c1c1c" stroke-width="1.5"/>
<line x1="349.75" y1="47.23" x2="346.15" y2="47.23" stroke="#1c1c1c" stroke-width="1.5"/>
<line x1="39.35" y1="54.23" x2="41.55" y2="54.23" stroke="#1c1c1c" stroke-width="1.5"/>
<line x1="349.75" y1="54.23" x2="347.55" y2="54.23" stroke="#1c1c1c" stroke-width="1.5"/>
<line x1="39.35" y1="61.23" x2="41.55" y2="61.23" stroke="#1c1c1c" stroke-width="1.5"/>
<line x1="349.75" y1="61.23" x2="347.55" y2="61.23" stroke="#1c1c1c" stroke-width="1.5"/>
<line x1="39.35" y1="68.24" x2="42.95" y2="68.24" stroke="#1c1c1c" stroke-width="1.5"/>
<line x1="349.75" y1="68.24" x2="346.15" y2="68.24" stroke="#1c1c1c" stroke-width="1.5"/>
<line x1="39.35" y1="75.24" x2="41.55" y2="75.24" stroke="#1c1c1c" stroke-width="1.5"/>
<line x1="349.75" y1="75.24" x2="347.55" y2="75.24" stroke="#1c1c1c" stroke-width="1.5"/>
<line x1="39.35" y1="82.25" x2="41.55" y2="82.25" stroke="#1c1c1c" stroke-width="1.5"/>
<line x1="349.75" y1="82.25" x2="347.55" y2="82.25" stroke="#1c1c1c" stroke-width="1.5"/>
<line x1="60.22" y1="173.60" x2="60.22" y2="171.40" stroke="#1c1c1c" stroke-width="1.5"/>
<line x1="60.22" y1="89.25" x2="60.22" y2="91.45" stroke="#1c1c1c" stroke-width="1.5"/>
<line x1="72.43" y1="173.60" x2="72.43" y2="171.40" stroke="#1c1c1c" stroke-width="1.5"/>
<line x1="72.43" y1="89.25" x2="72.43" y2="91.45" stroke="#1c1c1c" stroke-width="1.5"/>
<line x1="81.09" y1="173.60" x2="81.09" y2="171.40" stroke="#1c1c1c" stroke-width="1.5"/>
<line x1="81.09" y1="89.25" x2="81.09" y2="91.45" stroke="#1c1c1c" stroke-width="1.5"/>
<line x1="87.81" y1="173.60" x2="87.81" y2="171.40" stroke="#1c1c1c" stroke-width="1.5"/>
<line x1="87.81" y1="89.25" x2="87.81" y2="91.45" stroke="#1c1c1c" stroke-width="1.5"/>
<line x1="93.30" y1="173.60" x2="93.30" y2="171.40" stroke="#1c1c1c" stroke-width="1.5"/>
<line x1="93.30" y1="89.25" x2="93.30" y2="91.45" stroke="#1c1c1c" stroke-width="1.5"/>
<line x1="97.94" y1="173.60" x2="97.94" y2="171.40" stroke="#1c1c1c" stroke-width="1.5"/>
<line x1="97.94" y1="89.25" x2="97.94" y2="91.45" stroke="#1c1c1c" stroke-width="1.5"/>
<line x1="101.96" y1="173.60" x2="101.96" y2="171.40" stroke="#1c1c1c" stroke-width="1.5"/>
<line x1="101.96" y1="89.25" x2="101.96" y2="91.45" stroke="#1c1c1c" stroke-width="1.5"/>
<line x1="105.51" y1="173.60" x2="105.51" y2="171.40" stroke="#1c1c1c" stroke-width="1.5"/>
<line x1="105.51" y1="89.25" x2="105.51" y2="91.45" stroke="#1c1c1c" stroke-width="1.5"/>
<line x1="108.68" y1="173.60" x2="108.68" y2="170.00" stroke="#1c1c1c" stroke-width="1.5"/>
<line x1="108.68" y1="89.25" x2="108.68" y2="92.85" stroke="#1c1c1c" stroke-width="1.5"/>
<line x1="129.55" y1="173.60" x2="129.55" y2="171.40" stroke="#1c1c1c" stroke-width="1.5"/>
<line x1="129.55" y1="89.25" x2="129.55" y2="91.45" stroke="#1c1c1c" stroke-width="1.5"/>
<line x1="141.76" y1="173.60" x2="141.76" y2="171.40" stroke="#1c1c1c" stroke-width="1.5"/>
<line x1="141.76" y1="89.25" x2="141.76" y2="91.45" stroke="#1c1c1c" stroke-width="1.5"/>
<line x1="150.42" y1="173.60" x2="150.42" y2="171.40" stroke="#1c1c1c" stroke-width="1.5"/>
<line x1="150.42" y1="89.25" x2="150.42" y2="91.45" stroke="#1c1c1c" stroke-width="1.5"/>
<line x1="157.14" y1="173.60" x2="157.14" y2="171.40" stroke="#1c1c1c" stroke-width="1.5"/>
<line x1="157.14" y1="89.25" x2="157.14" y2="91.45" stroke="#1c1c1c" stroke-width="1.5"/>
<line x1="162.63" y1="173.60" x2="162.63" y2="171.40" stroke="#1c1c1c" stroke-width="1.5"/>
<line x1="162.63" y1="89.25" x2="162.63" y2="91.45" stroke="#1c1c1c" stroke-width="1.5"/>
<line x1="167.27" y1="173.60" x2="167.27" y2="171.40" stroke="#1c1c1c" stroke-width="1.5"/>
<line x1="167.27" y1="89.25" x2="167.27" y2="91.45" stroke="#1c1c1c" stroke-width="1.5"/>
<line x1="171.29" y1="173.60" x2="171.29" y2="171.40" stroke="#1c1c1c" stroke-width="1.5"/>
<line x1="171.29" y1="89.25" x2="171.29" y2="91.45" stroke="#1c1c1c" stroke-width="1.5"/>
<line x1="174.84" y1="173.60" x2="174.84" y2="171.40" stroke="#1c1c1c" stroke-width="1.5"/>
<line x1="174.84" y1="89.25" x2="174.84" y2="91.45" stroke="#1c1c1c" stroke-width="1.5"/>
<line x1="178.01" y1="173.60" x2="178.01" y2="170.00" stroke="#1c1c1c" stroke-width="1.5"/>
<line x1="178.01" y1="89.25" x2="178.01" y2="92.85" stroke="#1c1c1c" stroke-width="1.5"/>
<line x1="198.88" y1="173.60" x2="198.88" y2="171.40" stroke="#1c1c1c" stroke-width="1.5"/>
<line x1="198.88" y1="89.25" x2="198.88" y2="91.45" stroke="#1c1c1c" stroke-width="1.5"/>
<line x1="211.09" y1="173.60" x2="211.09" y2="171.40" stroke="#1c1c1c" stroke-width="1.5"/>
<line x1="211.09" y1="89.25" x2="211.09" y2="91.45" stroke="#1c1c1c" stroke-width="1.5"/>
<line x1="219.75" y1="173.60" x2="219.75" y2="171.40" stroke="#1c1c1c" stroke-width="1.5"/>
<line x1="219.75" y1="89.25" x2="219.75" y2="91.45" stroke="#1c1c1c" stroke-width="1.5"/>
<line x1="226.47" y1="173.60" x2="226.47" y2="171.40" stroke="#1c1c1c" stroke-width="1.5"/>
<line x1="226.47" y1="89.25" x2="226.47" y2="91.45" stroke="#1c1c1c" stroke-width="1.5"/>
<line x1="231.96" y1="173.60" x2="231.96" y2="171.40" stroke="#1c1c1c" stroke-width="1.5"/>
<line x1="231.96" y1="89.25" x2="231.96" y2="91.45" stroke="#1c1c1c" stroke-width="1.5"/>
<line x1="236.60" y1="173.60" x2="236.60" y2="171.40" stroke="#1c1c1c" stroke-width="1.5"/>
<line x1="236.60" y1="89.25" x2="236.60" y2="91.45" stroke="#1c1c1c" stroke-width="1.5"/>
<line x1="240.62" y1="173.60" x2="240.62" y2="171.40" stroke="#1c1c1c" stroke-width="1.5"/>
<line x1="240.62" y1="89.25" x2="240.62" y2="91.45" stroke="#1c1c1c" stroke-width="1.5"/>
<line x1="244.17" y1="173.60" x2="244.17" y2="171.40" stroke="#1c1c1c" stroke-width="1.5"/>
<line x1="244.17" y1="89.25" x2="244.17" y2="91.45" stroke="#1c1c1c" stroke-width="1.5"/>
<line x1="247.34" y1="173.60" x2="247.34" y2="170.00" stroke="#1c1c1c" stroke-width="1.5"/>
<line x1="247.34" y1="89.25" x2="247.34" y2="92.85" stroke="#1c1c1c" stroke-width="1.5"/>
<line x1="268.21" y1="173.60" x2="268.21" y2="171.40" stroke="#1c1c1c" stroke-width="1.5"/>
<line x1="268.21" y1="89.25" x2="268.21" y2="91.45" stroke="#1c1c1c" stroke-width="1.5"/>
<line x1="280.42" y1="173.60" x2="280.42" y2="171.40" stroke="#1c1c1c" stroke-width="1.5"/>
<line x1="280.42" y1="89.25" x2="280.42" y2="91.45" stroke="#1c1c1c" stroke-width="1.5"/>
<line x1="289.08" y1="173.60" x2="289.08" y2="171.40" stroke="#1c1c1c" stroke-width="1.5"/>
<line x1="289.08" y1="89.25" x2="289.08" y2="91.45" stroke="#1c1c1c" stroke-width="1.5"/>
<line x1="295.80" y1="173.60" x2="295.80" y2="171.40" stroke="#1c1c1c" stroke-width="1.5"/>
<line x1="295.80" y1="89.25" x2="295.80" y2="91.45" stroke="#1c1c1c" stroke-width="1.5"/>
<line x1="301.29" y1="173.60" x2="301.29" y2="171.40" stroke="#1c1c1c" stroke-width="1.5"/>
<line x1="301.29" y1="89.25" x2="301.29" y2="91.45" stroke="#1c1c1c" stroke-width="1.5"/>
<line x1="305.93" y1="173.60" x2="305.93" y2="171.40" stroke="#1c1c1c" stroke-width="1.5"/>
<line x1="305.93" y1="89.25" x2="305.93" y2="91.45" stroke="#1c1c1c" stroke-width="1.5"/>
<line x1="309.95" y1="173.60" x2="309.95" y2="171.40" stroke="#1c1c1c" stroke-width="1.5"/>
<line x1="309.95" y1="89.25" x2="309.95" y2="91.45" stroke="#1c1c1c" stroke-width="1.5"/>
<line x1="313.50" y1="173.60" x2="313.50" y2="171.40" stroke="#1c1c1c" stroke-width="1.5"/>
<line x1="313.50" y1="89.25" x2="313.50" y2="91.45" stroke="#1c1c1c" stroke-width="1.5"/>
<line x1="316.67" y1="173.60" x2="316.67" y2="170.00" stroke="#1c1c1c" stroke-width="1.5"/>
<line x1="316.67" y1="89.25" x2="316.67" y2="92.85" stroke="#1c1c1c" stroke-width="1.5"/>
<line x1="337.54" y1="173.60" x2="337.54" y2="171.40" stroke="#1c1c1c" stroke-width="1.5"/>
<line x1="337.54" y1="89.25" x2="337.54" y2="91.45" stroke="#1c1c1c" stroke-width="1.5"/>
<line x1="39.35" y1="106.12" x2="42.95" y2="106.12" stroke="#1c1c1c" stroke-width="1.5"/>
<line x1="349.75" y1="106.12" x2="346.15" y2="106.12" stroke="#1c1c1c" stroke-width="1.5"/>
<line x1="39.35" y1="122.99" x2="42.95" y2="122.99" stroke="#1c1c1c" stroke-width="1.5"/>
<line x1="349.75" y1="122.99" x2="346.15" y2="122.99" stroke="#1c1c1c" stroke-width="1.5"/>
<line x1="39.35" y1="139.86" x2="42.95" y2="139.86" stroke="#1c1c1c" stroke-width="1.5"/>
<line x1="349.75" y1="139.86" x2="346.15" y2="139.86" stroke="#1c1c1c" stroke-width="1.5"/>
<line x1="39.35" y1="156.73" x2="42.95" y2="156.73" stroke="#1c1c1c" stroke-width="1.5"/>
<line x1="349.75" y1="156.73" x2="346.15" y2="156.73" stroke="#1c1c1c" stroke-width="1.5"/>
<line x1="60.22" y1="257.55" x2="60.22" y2="255.35" stroke="#1c1c1c" stroke-width="1.5"/>
<line x1="60.22" y1="173.60" x2="60.22" y2="175.80" stroke="#1c1c1c" stroke-width="1.5"/>
<line x1="72.43" y1="257.55" x2="72.43" y2="255.35" stroke="#1c1c1c" stroke-width="1.5"/>
<line x1="72.43" y1="173.60" x2="72.43" y2="175.80" stroke="#1c1c1c" stroke-width="1.5"/>
<line x1="81.09" y1="257.55" x2="81.09" y2="255.35" stroke="#1c1c1c" stroke-width="1.5"/>
<line x1="81.09" y1="173.60" x2="81.09" y2="175.80" stroke="#1c1c1c" stroke-width="1.5"/>
<line x1="87.81" y1="257.55" x2="87.81" y2="255.35" stroke="#1c1c1c" stroke-width="1.5"/>
<line x1="87.81" y1="173.60" x2="87.81" y2="175.80" stroke="#1c1c1c" stroke-width="1.5"/>
<line x1="93.30" y1="257.55" x2="93.30" y2="255.35" stroke="#1c1c1c" stroke-width="1.5"/>
<line x1="93.30" y1="173.60" x2="93.30" y2="175.80" stroke="#1c1c1c" stroke-width="1.5"/>
<line x1="97.94" y1="257.55" x2="97.94" y2="255.35" stroke="#1c1c1c" stroke-width="1.5"/>
<line x1="97.94" y1="173.60" x2="97.94" y2="175.80" stroke="#1c1c1c" stroke-width="1.5"/>
<line x1="101.96" y1="257.55" x2="101.96" y2="255.35" stroke="#1c1c1c" stroke-width="1.5"/>
<line x1="101.96" y1="173.60" x2="101.96" y2="175.80" stroke="#1c1c1c" stroke-width="1.5"/>
<line x1="105.51" y1="257.55" x2="105.51" y2="255.35" stroke="#1c1c1c" stroke-width="1.5"/>
<line x1="105.51" y1="173.60" x2="105.51" y2="175.80" stroke="#1c1c1c" stroke-width="1.5"/>
<line x1="108.68" y1="257.55" x2="108.68" y2="253.95" stroke="#1c1c1c" stroke-width="1.5"/>
<line x1="108.68" y1="173.60" x2="108.68" y2="177.20" stroke="#1c1c1c" stroke-width="1.5"/>
<line x1="129.55" y1="257.55" x2="129.55" y2="255.35" stroke="#1c1c1c" stroke-width="1.5"/>
<line x1="129.55" y1="173.60" x2="129.55" y2="175.80" stroke="#1c1c1c" stroke-width="1.5"/>
<line x1="141.76" y1="257.55" x2="141.76" y2="255.35" stroke="#1c1c1c" stroke-width="1.5"/>
<line x1="141.76" y1="173.60" x2="141.76" y2="175.80" stroke="#1c1c1c" stroke-width="1.5"/>
<line x1="150.42" y1="257.55" x2="150.42" y2="255.35" stroke="#1c1c1c" stroke-width="1.5"/>
<line x1="150.42" y1="173.60" x2="150.42" y2="175.80" stroke="#1c1c1c" stroke-width="1.5"/>
<line x1="157.14" y1="257.55" x2="157.14" y2="255.35" stroke="#1c1c1c" stroke-width="1.5"/>
<line x1="157.14" y1="173.60" x2="157.14" y2="175.80" stroke="#1c1c1c" stroke-width="1.5"/>
<line x1="162.63" y1="257.55" x2="162.63" y2="255.35" stroke="#1c1c1c" stroke-width="1.5"/>
<line x1="162.63" y1="173.60" x2="162.63" y2="175.80" stroke="#1c1c1c" stroke-width="1.5"/>
<line x1="167.27" y1="257.55" x2="167.27" y2="255.35" stroke="#1c1c1c" stroke-width="1.5"/>
<line x1="167.27" y1="173.60" x2="167.27" y2="175.80" stroke="#1c1c1c" stroke-width="1.5"/>
<line x1="171.29" y1="257.55" x2="171.29" y2="255.35" stroke="#1c1c1c" stroke-width="1.5"/>
<line x1="171.29" y1="173.60" x2="171.29" y2="175.80" stroke="#1c1c1c" stroke-width="1.5"/>
<line x1="174.84" y1="257.55" x2="174.84" y2="255.35" stroke="#1c1c1c" stroke-width="1.5"/>
<line x1="174.84" y1="173.60" x2="174.84" y2="175.80" stroke="#1c1c1c" stroke-width="1.5"/>
<line x1="178.01" y1="257.55" x2="178.01" y2="253.95" stroke="#1c1c1c" stroke-width="1.5"/>
<line x1="178.01" y1="173.60" x2="178.01" y2="177.20" stroke="#1c1c1c" stroke-width="1.5"/>
<line x1="198.88" y1="257.55" x2="198.88" y2="255.35" stroke="#1c1c1c" stroke-width="1.5"/>
<line x1="198.88" y1="173.60" x2="198.88" y2="175.80" stroke="#1c1c1c" stroke-width="1.5"/>
<line x1="211.09" y1="257.55" x2="211.09" y2="255.35" stroke="#1c1c1c" stroke-width="1.5"/>
<line x1="211.09" y1="173.60" x2="211.09" y2="175.80" stroke="#1c1c1c" stroke-width="1.5"/>
<line x1="219.75" y1="257.55" x2="219.75" y2="255.35" stroke="#1c1c1c" stroke-width="1.5"/>
<line x1="219.75" y1="173.60" x2="219.75" y2="175.80" stroke="#1c1c1c" stroke-width="1.5"/>
<line x1="226.47" y1="257.55" x2="226.47" y2="255.35" stroke="#1c1c1c" stroke-width="1.5"/>
<line x1="226.47" y1="173.60" x2="226.47" y2="175.80" stroke="#1c1c1c" stroke-width="1.5"/>
<line x1="231.96" y1="257.55" x2="231.96" y2="255.35" stroke="#1c1c1c" stroke-width="1.5"/>
<line x1="231.96" y1="173.60" x2="231.96" y2="175.80" stroke="#1c1c1c" stroke-width="1.5"/>
<line x1="236.60" y1="257.55" x2="236.60" y2="255.35" stroke="#1c1c1c" stroke-width="1.5"/>
<line x1="236.60" y1="173.60" x2="236.60" y2="175.80" stroke="#1c1c1c" stroke-width="1.5"/>
<line x1="240.62" y1="257.55" x2="240.62" y2="255.35" stroke="#1c1c1c" stroke-width="1.5"/>
<line x1="240.62" y1="173.60" x2="240.62" y2="175.80" stroke="#1c1c1c" stroke-width="1.5"/>
<line x1="244.17" y1="257.55" x2="244.17" y2="255.35" stroke="#1c1c1c" stroke-width="1.5"/>
<line x1="244.17" y1="173.60" x2="244.17" y2="175.80" stroke="#1c1c1c" stroke-width="1.5"/>
<line x1="247.34" y1="257.55" x2="247.34" y2="253.95" stroke="#1c1c1c" stroke-width="1.5"/>
<line x1="247.34" y1="173.60" x2="247.34" y2="177.20" stroke="#1c1c1c" stroke-width="1.5"/>
<line x1="268.21" y1="257.55" x2="268.21" y2="255.35" stroke="#1c1c1c" stroke-width="1.5"/>
<line x1="268.21" y1="173.60" x2="268.21" y2="175.80" stroke="#1c1c1c" stroke-width="1.5"/>
<line x1="280.42" y1="257.55" x2="280.42" y2="255.35" stroke="#1c1c1c" stroke-width="1.5"/>
<line x1="280.42" y1="173.60" x2="280.42" y2="175.80" stroke="#1c1c1c" stroke-width="1.5"/>
<line x1="289.08" y1="257.55" x2="289.08" y2="255.35" stroke="#1c1c1c" stroke-width="1.5"/>
<line x1="289.08" y1="173.60" x2="289.08" y2="175.80" stroke="#1c1c1c" stroke-width="1.5"/>
<line x1="295.80" y1="257.55" x2="295.80" y2="255.35" stroke="#1c1c1c" stroke-width="1.5"/>
<line x1="295.80" y1="173.60" x2="295.80" y2="175.80" stroke="#1c1c1c" stroke-width="1.5"/>
<line x1="301.29" y1="257.55" x2="301.29" y2="255.35" stroke="#1c1c1c" stroke-width="1.5"/>
<line x1="301.29" y1="173.60" x2="301.29" y2="175.80" stroke="#1c1c1c" stroke-width="1.5"/>
<line x1="305.93" y1="257.55" x2="305.93" y2="255.35" stroke="#1c1c1c" stroke-width="1.5"/>
<line x1="305.93" y1="173.60" x2="305.93" y2="175.80" stroke="#1c1c1c" stroke-width="1.5"/>
<line x1="309.95" y1="257.55" x2="309.95" y2="255.35" stroke="#1c1c1c" stroke-width="1.5"/>
<line x1="309.95" y1="173.60" x2="309.95" y2="175.80" stroke="#1c1c1c" stroke-width="1.5"/>
<line x1="313.50" y1="257.55" x2="313.50" y2="255.35" stroke="#1c1c1c" stroke-width="1.5"/>
<line x1="313.50" y1="173.60" x2="313.50" y2="175.80" stroke="#1c1c1c" stroke-width="1.5"/>
<line x1="316.67" y1="257.55" x2="316.67" y2="253.95" stroke="#1c1c1c" stroke-width="1.5"/>
<line x1="316.67" y1="173.60" x2="316.67" y2="177.20" stroke="#1c1c1c" stroke-width="1.5"/>
<line x1="337.54" y1="257.55" x2="337.54" y2="255.35" stroke="#1c1c1c" stroke-width="1.5"/>
<line x1="337.54" y1="173.60" x2="337.54" y2="175.80" stroke="#1c1c1c" stroke-width="1.5"/>
<line x1="39.35" y1="194.59" x2="42.95" y2="194.59" stroke="#1c1c1c" stroke-width="1.5"/>
<line x1="349.75" y1="194.59" x2="346.15" y2="194.59" stroke="#1c1c1c" stroke-width="1.5"/>
<line x1="39.35" y1="215.57" x2="42.95" y2="215.57" stroke="#1c1c1c" stroke-width="1.5"/>
<line x1="349.75" y1="215.57" x2="346.15" y2="215.57" stroke="#1c1c1c" stroke-width="1.5"/>
<line x1="39.35" y1="236.56" x2="42.95" y2="236.56" stroke="#1c1c1c" stroke-width="1.5"/>
<line x1="349.75" y1="236.56" x2="346.15" y2="236.56" stroke="#1c1c1c" stroke-width="1.5"/>
<line x1="38.75" y1="5.20" x2="350.35" y2="5.20" stroke="#1c1c1c" stroke-width="1.5"/>
<line x1="38.75" y1="89.25" x2="350.35" y2="89.25" stroke="#1c1c1c" stroke-width="1.5"/>
<line x1="38.75" y1="173.60" x2="350.35" y2="173.60" stroke="#1c1c1c" stroke-width="1.5"/>
<line x1="38.75" y1="257.55" x2="350.35" y2="257.55" stroke="#1c1c1c" stroke-width="1.5"/>
<line x1="39.35" y1="5.20" x2="39.35" y2="257.55" stroke="#1c1c1c" stroke-width="1.5"/>
<line x1="349.75" y1="5.20" x2="349.75" y2="257.55" stroke="#1c1c1c" stroke-width="1.5"/>
<text x="35.45" y="11.10" font-size="10.4" text-anchor="end">10<tspan font-size="7.3" dy="-5.0">5</tspan></text>
<text x="35.45" y="32.11" font-size="10.4" text-anchor="end">10<tspan font-size="7.3" dy="-5.0">2</tspan></text>
<text x="34.75" y="53.12" font-size="10.4" text-anchor="end">10<tspan font-size="7.3" dy="-5.0" dx="0.6">-</tspan><tspan font-size="7.3">1</tspan></text>
<text x="34.75" y="74.14" font-size="10.4" text-anchor="end">10<tspan font-size="7.3" dy="-5.0" dx="0.6">-</tspan><tspan font-size="7.3">4</tspan></text>
<text x="34.75" y="95.15" font-size="10.4" text-anchor="end">10<tspan font-size="7.3" dy="-5.0" dx="0.6">-</tspan><tspan font-size="7.3">7</tspan></text>
<text x="35.45" y="111.02" font-size="10.4" text-anchor="end" >0.6</text>
<text x="35.45" y="127.89" font-size="10.4" text-anchor="end" >0.4</text>
<text x="35.45" y="144.76" font-size="10.4" text-anchor="end" >0.2</text>
<text x="35.45" y="161.63" font-size="10.4" text-anchor="end" >0.0</text>
<text x="35.45" y="178.50" font-size="10.4" text-anchor="end" >120</text>
<text x="35.45" y="199.49" font-size="10.4" text-anchor="end" >60</text>
<text x="35.45" y="220.47" font-size="10.4" text-anchor="end" >0</text>
<text x="35.45" y="241.46" font-size="10.4" text-anchor="end" >-60</text>
<text x="35.45" y="262.45" font-size="10.4" text-anchor="end" >-120</text>
<text x="39.35" y="274.80" font-size="10.4" text-anchor="middle">10<tspan font-size="7.3" dy="-5.1">1</tspan></text>
<text x="108.68" y="274.80" font-size="10.4" text-anchor="middle">10<tspan font-size="7.3" dy="-5.1">2</tspan></text>
<text x="178.01" y="274.80" font-size="10.4" text-anchor="middle">10<tspan font-size="7.3" dy="-5.1">3</tspan></text>
<text x="247.34" y="274.80" font-size="10.4" text-anchor="middle">10<tspan font-size="7.3" dy="-5.1">4</tspan></text>
<text x="316.67" y="274.80" font-size="10.4" text-anchor="middle">10<tspan font-size="7.3" dy="-5.1">5</tspan></text>
<text x="194.25" y="290.6" font-size="11.0" text-anchor="middle"><tspan font-style="italic">t</tspan> [s]</text>
<text x="0" y="0" font-size="11.4" text-anchor="middle" letter-spacing="0.25" word-spacing="0.6" transform="translate(7.85,48.43) rotate(-90)">Flux Density [<tspan font-style="italic">&#956;</tspan>Jy]</text>
<text x="0" y="0" font-size="11.4" text-anchor="middle" transform="translate(7.85,132.23) rotate(-90)">PD</text>
<text x="0" y="0" font-size="11.4" text-anchor="middle" transform="translate(7.85,216.38) rotate(-90)">PA [degree]</text>
<line x1="434.72" y1="89.25" x2="434.72" y2="87.05" stroke="#1c1c1c" stroke-width="1.5"/>
<line x1="434.72" y1="5.20" x2="434.72" y2="7.40" stroke="#1c1c1c" stroke-width="1.5"/>
<line x1="446.93" y1="89.25" x2="446.93" y2="87.05" stroke="#1c1c1c" stroke-width="1.5"/>
<line x1="446.93" y1="5.20" x2="446.93" y2="7.40" stroke="#1c1c1c" stroke-width="1.5"/>
<line x1="455.59" y1="89.25" x2="455.59" y2="87.05" stroke="#1c1c1c" stroke-width="1.5"/>
<line x1="455.59" y1="5.20" x2="455.59" y2="7.40" stroke="#1c1c1c" stroke-width="1.5"/>
<line x1="462.31" y1="89.25" x2="462.31" y2="87.05" stroke="#1c1c1c" stroke-width="1.5"/>
<line x1="462.31" y1="5.20" x2="462.31" y2="7.40" stroke="#1c1c1c" stroke-width="1.5"/>
<line x1="467.80" y1="89.25" x2="467.80" y2="87.05" stroke="#1c1c1c" stroke-width="1.5"/>
<line x1="467.80" y1="5.20" x2="467.80" y2="7.40" stroke="#1c1c1c" stroke-width="1.5"/>
<line x1="472.44" y1="89.25" x2="472.44" y2="87.05" stroke="#1c1c1c" stroke-width="1.5"/>
<line x1="472.44" y1="5.20" x2="472.44" y2="7.40" stroke="#1c1c1c" stroke-width="1.5"/>
<line x1="476.46" y1="89.25" x2="476.46" y2="87.05" stroke="#1c1c1c" stroke-width="1.5"/>
<line x1="476.46" y1="5.20" x2="476.46" y2="7.40" stroke="#1c1c1c" stroke-width="1.5"/>
<line x1="480.01" y1="89.25" x2="480.01" y2="87.05" stroke="#1c1c1c" stroke-width="1.5"/>
<line x1="480.01" y1="5.20" x2="480.01" y2="7.40" stroke="#1c1c1c" stroke-width="1.5"/>
<line x1="483.18" y1="89.25" x2="483.18" y2="85.65" stroke="#1c1c1c" stroke-width="1.5"/>
<line x1="483.18" y1="5.20" x2="483.18" y2="8.80" stroke="#1c1c1c" stroke-width="1.5"/>
<line x1="504.05" y1="89.25" x2="504.05" y2="87.05" stroke="#1c1c1c" stroke-width="1.5"/>
<line x1="504.05" y1="5.20" x2="504.05" y2="7.40" stroke="#1c1c1c" stroke-width="1.5"/>
<line x1="516.26" y1="89.25" x2="516.26" y2="87.05" stroke="#1c1c1c" stroke-width="1.5"/>
<line x1="516.26" y1="5.20" x2="516.26" y2="7.40" stroke="#1c1c1c" stroke-width="1.5"/>
<line x1="524.92" y1="89.25" x2="524.92" y2="87.05" stroke="#1c1c1c" stroke-width="1.5"/>
<line x1="524.92" y1="5.20" x2="524.92" y2="7.40" stroke="#1c1c1c" stroke-width="1.5"/>
<line x1="531.64" y1="89.25" x2="531.64" y2="87.05" stroke="#1c1c1c" stroke-width="1.5"/>
<line x1="531.64" y1="5.20" x2="531.64" y2="7.40" stroke="#1c1c1c" stroke-width="1.5"/>
<line x1="537.13" y1="89.25" x2="537.13" y2="87.05" stroke="#1c1c1c" stroke-width="1.5"/>
<line x1="537.13" y1="5.20" x2="537.13" y2="7.40" stroke="#1c1c1c" stroke-width="1.5"/>
<line x1="541.77" y1="89.25" x2="541.77" y2="87.05" stroke="#1c1c1c" stroke-width="1.5"/>
<line x1="541.77" y1="5.20" x2="541.77" y2="7.40" stroke="#1c1c1c" stroke-width="1.5"/>
<line x1="545.79" y1="89.25" x2="545.79" y2="87.05" stroke="#1c1c1c" stroke-width="1.5"/>
<line x1="545.79" y1="5.20" x2="545.79" y2="7.40" stroke="#1c1c1c" stroke-width="1.5"/>
<line x1="549.34" y1="89.25" x2="549.34" y2="87.05" stroke="#1c1c1c" stroke-width="1.5"/>
<line x1="549.34" y1="5.20" x2="549.34" y2="7.40" stroke="#1c1c1c" stroke-width="1.5"/>
<line x1="552.51" y1="89.25" x2="552.51" y2="85.65" stroke="#1c1c1c" stroke-width="1.5"/>
<line x1="552.51" y1="5.20" x2="552.51" y2="8.80" stroke="#1c1c1c" stroke-width="1.5"/>
<line x1="573.38" y1="89.25" x2="573.38" y2="87.05" stroke="#1c1c1c" stroke-width="1.5"/>
<line x1="573.38" y1="5.20" x2="573.38" y2="7.40" stroke="#1c1c1c" stroke-width="1.5"/>
<line x1="585.59" y1="89.25" x2="585.59" y2="87.05" stroke="#1c1c1c" stroke-width="1.5"/>
<line x1="585.59" y1="5.20" x2="585.59" y2="7.40" stroke="#1c1c1c" stroke-width="1.5"/>
<line x1="594.25" y1="89.25" x2="594.25" y2="87.05" stroke="#1c1c1c" stroke-width="1.5"/>
<line x1="594.25" y1="5.20" x2="594.25" y2="7.40" stroke="#1c1c1c" stroke-width="1.5"/>
<line x1="600.97" y1="89.25" x2="600.97" y2="87.05" stroke="#1c1c1c" stroke-width="1.5"/>
<line x1="600.97" y1="5.20" x2="600.97" y2="7.40" stroke="#1c1c1c" stroke-width="1.5"/>
<line x1="606.46" y1="89.25" x2="606.46" y2="87.05" stroke="#1c1c1c" stroke-width="1.5"/>
<line x1="606.46" y1="5.20" x2="606.46" y2="7.40" stroke="#1c1c1c" stroke-width="1.5"/>
<line x1="611.10" y1="89.25" x2="611.10" y2="87.05" stroke="#1c1c1c" stroke-width="1.5"/>
<line x1="611.10" y1="5.20" x2="611.10" y2="7.40" stroke="#1c1c1c" stroke-width="1.5"/>
<line x1="615.12" y1="89.25" x2="615.12" y2="87.05" stroke="#1c1c1c" stroke-width="1.5"/>
<line x1="615.12" y1="5.20" x2="615.12" y2="7.40" stroke="#1c1c1c" stroke-width="1.5"/>
<line x1="618.67" y1="89.25" x2="618.67" y2="87.05" stroke="#1c1c1c" stroke-width="1.5"/>
<line x1="618.67" y1="5.20" x2="618.67" y2="7.40" stroke="#1c1c1c" stroke-width="1.5"/>
<line x1="621.84" y1="89.25" x2="621.84" y2="85.65" stroke="#1c1c1c" stroke-width="1.5"/>
<line x1="621.84" y1="5.20" x2="621.84" y2="8.80" stroke="#1c1c1c" stroke-width="1.5"/>
<line x1="642.71" y1="89.25" x2="642.71" y2="87.05" stroke="#1c1c1c" stroke-width="1.5"/>
<line x1="642.71" y1="5.20" x2="642.71" y2="7.40" stroke="#1c1c1c" stroke-width="1.5"/>
<line x1="654.92" y1="89.25" x2="654.92" y2="87.05" stroke="#1c1c1c" stroke-width="1.5"/>
<line x1="654.92" y1="5.20" x2="654.92" y2="7.40" stroke="#1c1c1c" stroke-width="1.5"/>
<line x1="663.58" y1="89.25" x2="663.58" y2="87.05" stroke="#1c1c1c" stroke-width="1.5"/>
<line x1="663.58" y1="5.20" x2="663.58" y2="7.40" stroke="#1c1c1c" stroke-width="1.5"/>
<line x1="670.30" y1="89.25" x2="670.30" y2="87.05" stroke="#1c1c1c" stroke-width="1.5"/>
<line x1="670.30" y1="5.20" x2="670.30" y2="7.40" stroke="#1c1c1c" stroke-width="1.5"/>
<line x1="675.79" y1="89.25" x2="675.79" y2="87.05" stroke="#1c1c1c" stroke-width="1.5"/>
<line x1="675.79" y1="5.20" x2="675.79" y2="7.40" stroke="#1c1c1c" stroke-width="1.5"/>
<line x1="680.43" y1="89.25" x2="680.43" y2="87.05" stroke="#1c1c1c" stroke-width="1.5"/>
<line x1="680.43" y1="5.20" x2="680.43" y2="7.40" stroke="#1c1c1c" stroke-width="1.5"/>
<line x1="684.45" y1="89.25" x2="684.45" y2="87.05" stroke="#1c1c1c" stroke-width="1.5"/>
<line x1="684.45" y1="5.20" x2="684.45" y2="7.40" stroke="#1c1c1c" stroke-width="1.5"/>
<line x1="688.00" y1="89.25" x2="688.00" y2="87.05" stroke="#1c1c1c" stroke-width="1.5"/>
<line x1="688.00" y1="5.20" x2="688.00" y2="7.40" stroke="#1c1c1c" stroke-width="1.5"/>
<line x1="691.17" y1="89.25" x2="691.17" y2="85.65" stroke="#1c1c1c" stroke-width="1.5"/>
<line x1="691.17" y1="5.20" x2="691.17" y2="8.80" stroke="#1c1c1c" stroke-width="1.5"/>
<line x1="712.04" y1="89.25" x2="712.04" y2="87.05" stroke="#1c1c1c" stroke-width="1.5"/>
<line x1="712.04" y1="5.20" x2="712.04" y2="7.40" stroke="#1c1c1c" stroke-width="1.5"/>
<line x1="413.85" y1="12.20" x2="416.05" y2="12.20" stroke="#1c1c1c" stroke-width="1.5"/>
<line x1="724.25" y1="12.20" x2="722.05" y2="12.20" stroke="#1c1c1c" stroke-width="1.5"/>
<line x1="413.85" y1="19.21" x2="416.05" y2="19.21" stroke="#1c1c1c" stroke-width="1.5"/>
<line x1="724.25" y1="19.21" x2="722.05" y2="19.21" stroke="#1c1c1c" stroke-width="1.5"/>
<line x1="413.85" y1="26.21" x2="417.45" y2="26.21" stroke="#1c1c1c" stroke-width="1.5"/>
<line x1="724.25" y1="26.21" x2="720.65" y2="26.21" stroke="#1c1c1c" stroke-width="1.5"/>
<line x1="413.85" y1="33.22" x2="416.05" y2="33.22" stroke="#1c1c1c" stroke-width="1.5"/>
<line x1="724.25" y1="33.22" x2="722.05" y2="33.22" stroke="#1c1c1c" stroke-width="1.5"/>
<line x1="413.85" y1="40.22" x2="416.05" y2="40.22" stroke="#1c1c1c" stroke-width="1.5"/>
<line x1="724.25" y1="40.22" x2="722.05" y2="40.22" stroke="#1c1c1c" stroke-width="1.5"/>
<line x1="413.85" y1="47.23" x2="417.45" y2="47.23" stroke="#1c1c1c" stroke-width="1.5"/>
<line x1="724.25" y1="47.23" x2="720.65" y2="47.23" stroke="#1c1c1c" stroke-width="1.5"/>
<line x1="413.85" y1="54.23" x2="416.05" y2="54.23" stroke="#1c1c1c" stroke-width="1.5"/>
<line x1="724.25" y1="54.23" x2="722.05" y2="54.23" stroke="#1c1c1c" stroke-width="1.5"/>
<line x1="413.85" y1="61.23" x2="416.05" y2="61.23" stroke="#1c1c1c" stroke-width="1.5"/>
<line x1="724.25" y1="61.23" x2="722.05" y2="61.23" stroke="#1c1c1c" stroke-width="1.5"/>
<line x1="413.85" y1="68.24" x2="417.45" y2="68.24" stroke="#1c1c1c" stroke-width="1.5"/>
<line x1="724.25" y1="68.24" x2="720.65" y2="68.24" stroke="#1c1c1c" stroke-width="1.5"/>
<line x1="413.85" y1="75.24" x2="416.05" y2="75.24" stroke="#1c1c1c" stroke-width="1.5"/>
<line x1="724.25" y1="75.24" x2="722.05" y2="75.24" stroke="#1c1c1c" stroke-width="1.5"/>
<line x1="413.85" y1="82.25" x2="416.05" y2="82.25" stroke="#1c1c1c" stroke-width="1.5"/>
<line x1="724.25" y1="82.25" x2="722.05" y2="82.25" stroke="#1c1c1c" stroke-width="1.5"/>
<line x1="434.72" y1="173.60" x2="434.72" y2="171.40" stroke="#1c1c1c" stroke-width="1.5"/>
<line x1="434.72" y1="89.25" x2="434.72" y2="91.45" stroke="#1c1c1c" stroke-width="1.5"/>
<line x1="446.93" y1="173.60" x2="446.93" y2="171.40" stroke="#1c1c1c" stroke-width="1.5"/>
<line x1="446.93" y1="89.25" x2="446.93" y2="91.45" stroke="#1c1c1c" stroke-width="1.5"/>
<line x1="455.59" y1="173.60" x2="455.59" y2="171.40" stroke="#1c1c1c" stroke-width="1.5"/>
<line x1="455.59" y1="89.25" x2="455.59" y2="91.45" stroke="#1c1c1c" stroke-width="1.5"/>
<line x1="462.31" y1="173.60" x2="462.31" y2="171.40" stroke="#1c1c1c" stroke-width="1.5"/>
<line x1="462.31" y1="89.25" x2="462.31" y2="91.45" stroke="#1c1c1c" stroke-width="1.5"/>
<line x1="467.80" y1="173.60" x2="467.80" y2="171.40" stroke="#1c1c1c" stroke-width="1.5"/>
<line x1="467.80" y1="89.25" x2="467.80" y2="91.45" stroke="#1c1c1c" stroke-width="1.5"/>
<line x1="472.44" y1="173.60" x2="472.44" y2="171.40" stroke="#1c1c1c" stroke-width="1.5"/>
<line x1="472.44" y1="89.25" x2="472.44" y2="91.45" stroke="#1c1c1c" stroke-width="1.5"/>
<line x1="476.46" y1="173.60" x2="476.46" y2="171.40" stroke="#1c1c1c" stroke-width="1.5"/>
<line x1="476.46" y1="89.25" x2="476.46" y2="91.45" stroke="#1c1c1c" stroke-width="1.5"/>
<line x1="480.01" y1="173.60" x2="480.01" y2="171.40" stroke="#1c1c1c" stroke-width="1.5"/>
<line x1="480.01" y1="89.25" x2="480.01" y2="91.45" stroke="#1c1c1c" stroke-width="1.5"/>
<line x1="483.18" y1="173.60" x2="483.18" y2="170.00" stroke="#1c1c1c" stroke-width="1.5"/>
<line x1="483.18" y1="89.25" x2="483.18" y2="92.85" stroke="#1c1c1c" stroke-width="1.5"/>
<line x1="504.05" y1="173.60" x2="504.05" y2="171.40" stroke="#1c1c1c" stroke-width="1.5"/>
<line x1="504.05" y1="89.25" x2="504.05" y2="91.45" stroke="#1c1c1c" stroke-width="1.5"/>
<line x1="516.26" y1="173.60" x2="516.26" y2="171.40" stroke="#1c1c1c" stroke-width="1.5"/>
<line x1="516.26" y1="89.25" x2="516.26" y2="91.45" stroke="#1c1c1c" stroke-width="1.5"/>
<line x1="524.92" y1="173.60" x2="524.92" y2="171.40" stroke="#1c1c1c" stroke-width="1.5"/>
<line x1="524.92" y1="89.25" x2="524.92" y2="91.45" stroke="#1c1c1c" stroke-width="1.5"/>
<line x1="531.64" y1="173.60" x2="531.64" y2="171.40" stroke="#1c1c1c" stroke-width="1.5"/>
<line x1="531.64" y1="89.25" x2="531.64" y2="91.45" stroke="#1c1c1c" stroke-width="1.5"/>
<line x1="537.13" y1="173.60" x2="537.13" y2="171.40" stroke="#1c1c1c" stroke-width="1.5"/>
<line x1="537.13" y1="89.25" x2="537.13" y2="91.45" stroke="#1c1c1c" stroke-width="1.5"/>
<line x1="541.77" y1="173.60" x2="541.77" y2="171.40" stroke="#1c1c1c" stroke-width="1.5"/>
<line x1="541.77" y1="89.25" x2="541.77" y2="91.45" stroke="#1c1c1c" stroke-width="1.5"/>
<line x1="545.79" y1="173.60" x2="545.79" y2="171.40" stroke="#1c1c1c" stroke-width="1.5"/>
<line x1="545.79" y1="89.25" x2="545.79" y2="91.45" stroke="#1c1c1c" stroke-width="1.5"/>
<line x1="549.34" y1="173.60" x2="549.34" y2="171.40" stroke="#1c1c1c" stroke-width="1.5"/>
<line x1="549.34" y1="89.25" x2="549.34" y2="91.45" stroke="#1c1c1c" stroke-width="1.5"/>
<line x1="552.51" y1="173.60" x2="552.51" y2="170.00" stroke="#1c1c1c" stroke-width="1.5"/>
<line x1="552.51" y1="89.25" x2="552.51" y2="92.85" stroke="#1c1c1c" stroke-width="1.5"/>
<line x1="573.38" y1="173.60" x2="573.38" y2="171.40" stroke="#1c1c1c" stroke-width="1.5"/>
<line x1="573.38" y1="89.25" x2="573.38" y2="91.45" stroke="#1c1c1c" stroke-width="1.5"/>
<line x1="585.59" y1="173.60" x2="585.59" y2="171.40" stroke="#1c1c1c" stroke-width="1.5"/>
<line x1="585.59" y1="89.25" x2="585.59" y2="91.45" stroke="#1c1c1c" stroke-width="1.5"/>
<line x1="594.25" y1="173.60" x2="594.25" y2="171.40" stroke="#1c1c1c" stroke-width="1.5"/>
<line x1="594.25" y1="89.25" x2="594.25" y2="91.45" stroke="#1c1c1c" stroke-width="1.5"/>
<line x1="600.97" y1="173.60" x2="600.97" y2="171.40" stroke="#1c1c1c" stroke-width="1.5"/>
<line x1="600.97" y1="89.25" x2="600.97" y2="91.45" stroke="#1c1c1c" stroke-width="1.5"/>
<line x1="606.46" y1="173.60" x2="606.46" y2="171.40" stroke="#1c1c1c" stroke-width="1.5"/>
<line x1="606.46" y1="89.25" x2="606.46" y2="91.45" stroke="#1c1c1c" stroke-width="1.5"/>
<line x1="611.10" y1="173.60" x2="611.10" y2="171.40" stroke="#1c1c1c" stroke-width="1.5"/>
<line x1="611.10" y1="89.25" x2="611.10" y2="91.45" stroke="#1c1c1c" stroke-width="1.5"/>
<line x1="615.12" y1="173.60" x2="615.12" y2="171.40" stroke="#1c1c1c" stroke-width="1.5"/>
<line x1="615.12" y1="89.25" x2="615.12" y2="91.45" stroke="#1c1c1c" stroke-width="1.5"/>
<line x1="618.67" y1="173.60" x2="618.67" y2="171.40" stroke="#1c1c1c" stroke-width="1.5"/>
<line x1="618.67" y1="89.25" x2="618.67" y2="91.45" stroke="#1c1c1c" stroke-width="1.5"/>
<line x1="621.84" y1="173.60" x2="621.84" y2="170.00" stroke="#1c1c1c" stroke-width="1.5"/>
<line x1="621.84" y1="89.25" x2="621.84" y2="92.85" stroke="#1c1c1c" stroke-width="1.5"/>
<line x1="642.71" y1="173.60" x2="642.71" y2="171.40" stroke="#1c1c1c" stroke-width="1.5"/>
<line x1="642.71" y1="89.25" x2="642.71" y2="91.45" stroke="#1c1c1c" stroke-width="1.5"/>
<line x1="654.92" y1="173.60" x2="654.92" y2="171.40" stroke="#1c1c1c" stroke-width="1.5"/>
<line x1="654.92" y1="89.25" x2="654.92" y2="91.45" stroke="#1c1c1c" stroke-width="1.5"/>
<line x1="663.58" y1="173.60" x2="663.58" y2="171.40" stroke="#1c1c1c" stroke-width="1.5"/>
<line x1="663.58" y1="89.25" x2="663.58" y2="91.45" stroke="#1c1c1c" stroke-width="1.5"/>
<line x1="670.30" y1="173.60" x2="670.30" y2="171.40" stroke="#1c1c1c" stroke-width="1.5"/>
<line x1="670.30" y1="89.25" x2="670.30" y2="91.45" stroke="#1c1c1c" stroke-width="1.5"/>
<line x1="675.79" y1="173.60" x2="675.79" y2="171.40" stroke="#1c1c1c" stroke-width="1.5"/>
<line x1="675.79" y1="89.25" x2="675.79" y2="91.45" stroke="#1c1c1c" stroke-width="1.5"/>
<line x1="680.43" y1="173.60" x2="680.43" y2="171.40" stroke="#1c1c1c" stroke-width="1.5"/>
<line x1="680.43" y1="89.25" x2="680.43" y2="91.45" stroke="#1c1c1c" stroke-width="1.5"/>
<line x1="684.45" y1="173.60" x2="684.45" y2="171.40" stroke="#1c1c1c" stroke-width="1.5"/>
<line x1="684.45" y1="89.25" x2="684.45" y2="91.45" stroke="#1c1c1c" stroke-width="1.5"/>
<line x1="688.00" y1="173.60" x2="688.00" y2="171.40" stroke="#1c1c1c" stroke-width="1.5"/>
<line x1="688.00" y1="89.25" x2="688.00" y2="91.45" stroke="#1c1c1c" stroke-width="1.5"/>
<line x1="691.17" y1="173.60" x2="691.17" y2="170.00" stroke="#1c1c1c" stroke-width="1.5"/>
<line x1="691.17" y1="89.25" x2="691.17" y2="92.85" stroke="#1c1c1c" stroke-width="1.5"/>
<line x1="712.04" y1="173.60" x2="712.04" y2="171.40" stroke="#1c1c1c" stroke-width="1.5"/>
<line x1="712.04" y1="89.25" x2="712.04" y2="91.45" stroke="#1c1c1c" stroke-width="1.5"/>
<line x1="413.85" y1="106.12" x2="417.45" y2="106.12" stroke="#1c1c1c" stroke-width="1.5"/>
<line x1="724.25" y1="106.12" x2="720.65" y2="106.12" stroke="#1c1c1c" stroke-width="1.5"/>
<line x1="413.85" y1="122.99" x2="417.45" y2="122.99" stroke="#1c1c1c" stroke-width="1.5"/>
<line x1="724.25" y1="122.99" x2="720.65" y2="122.99" stroke="#1c1c1c" stroke-width="1.5"/>
<line x1="413.85" y1="139.86" x2="417.45" y2="139.86" stroke="#1c1c1c" stroke-width="1.5"/>
<line x1="724.25" y1="139.86" x2="720.65" y2="139.86" stroke="#1c1c1c" stroke-width="1.5"/>
<line x1="413.85" y1="156.73" x2="417.45" y2="156.73" stroke="#1c1c1c" stroke-width="1.5"/>
<line x1="724.25" y1="156.73" x2="720.65" y2="156.73" stroke="#1c1c1c" stroke-width="1.5"/>
<line x1="434.72" y1="257.55" x2="434.72" y2="255.35" stroke="#1c1c1c" stroke-width="1.5"/>
<line x1="434.72" y1="173.60" x2="434.72" y2="175.80" stroke="#1c1c1c" stroke-width="1.5"/>
<line x1="446.93" y1="257.55" x2="446.93" y2="255.35" stroke="#1c1c1c" stroke-width="1.5"/>
<line x1="446.93" y1="173.60" x2="446.93" y2="175.80" stroke="#1c1c1c" stroke-width="1.5"/>
<line x1="455.59" y1="257.55" x2="455.59" y2="255.35" stroke="#1c1c1c" stroke-width="1.5"/>
<line x1="455.59" y1="173.60" x2="455.59" y2="175.80" stroke="#1c1c1c" stroke-width="1.5"/>
<line x1="462.31" y1="257.55" x2="462.31" y2="255.35" stroke="#1c1c1c" stroke-width="1.5"/>
<line x1="462.31" y1="173.60" x2="462.31" y2="175.80" stroke="#1c1c1c" stroke-width="1.5"/>
<line x1="467.80" y1="257.55" x2="467.80" y2="255.35" stroke="#1c1c1c" stroke-width="1.5"/>
<line x1="467.80" y1="173.60" x2="467.80" y2="175.80" stroke="#1c1c1c" stroke-width="1.5"/>
<line x1="472.44" y1="257.55" x2="472.44" y2="255.35" stroke="#1c1c1c" stroke-width="1.5"/>
<line x1="472.44" y1="173.60" x2="472.44" y2="175.80" stroke="#1c1c1c" stroke-width="1.5"/>
<line x1="476.46" y1="257.55" x2="476.46" y2="255.35" stroke="#1c1c1c" stroke-width="1.5"/>
<line x1="476.46" y1="173.60" x2="476.46" y2="175.80" stroke="#1c1c1c" stroke-width="1.5"/>
<line x1="480.01" y1="257.55" x2="480.01" y2="255.35" stroke="#1c1c1c" stroke-width="1.5"/>
<line x1="480.01" y1="173.60" x2="480.01" y2="175.80" stroke="#1c1c1c" stroke-width="1.5"/>
<line x1="483.18" y1="257.55" x2="483.18" y2="253.95" stroke="#1c1c1c" stroke-width="1.5"/>
<line x1="483.18" y1="173.60" x2="483.18" y2="177.20" stroke="#1c1c1c" stroke-width="1.5"/>
<line x1="504.05" y1="257.55" x2="504.05" y2="255.35" stroke="#1c1c1c" stroke-width="1.5"/>
<line x1="504.05" y1="173.60" x2="504.05" y2="175.80" stroke="#1c1c1c" stroke-width="1.5"/>
<line x1="516.26" y1="257.55" x2="516.26" y2="255.35" stroke="#1c1c1c" stroke-width="1.5"/>
<line x1="516.26" y1="173.60" x2="516.26" y2="175.80" stroke="#1c1c1c" stroke-width="1.5"/>
<line x1="524.92" y1="257.55" x2="524.92" y2="255.35" stroke="#1c1c1c" stroke-width="1.5"/>
<line x1="524.92" y1="173.60" x2="524.92" y2="175.80" stroke="#1c1c1c" stroke-width="1.5"/>
<line x1="531.64" y1="257.55" x2="531.64" y2="255.35" stroke="#1c1c1c" stroke-width="1.5"/>
<line x1="531.64" y1="173.60" x2="531.64" y2="175.80" stroke="#1c1c1c" stroke-width="1.5"/>
<line x1="537.13" y1="257.55" x2="537.13" y2="255.35" stroke="#1c1c1c" stroke-width="1.5"/>
<line x1="537.13" y1="173.60" x2="537.13" y2="175.80" stroke="#1c1c1c" stroke-width="1.5"/>
<line x1="541.77" y1="257.55" x2="541.77" y2="255.35" stroke="#1c1c1c" stroke-width="1.5"/>
<line x1="541.77" y1="173.60" x2="541.77" y2="175.80" stroke="#1c1c1c" stroke-width="1.5"/>
<line x1="545.79" y1="257.55" x2="545.79" y2="255.35" stroke="#1c1c1c" stroke-width="1.5"/>
<line x1="545.79" y1="173.60" x2="545.79" y2="175.80" stroke="#1c1c1c" stroke-width="1.5"/>
<line x1="549.34" y1="257.55" x2="549.34" y2="255.35" stroke="#1c1c1c" stroke-width="1.5"/>
<line x1="549.34" y1="173.60" x2="549.34" y2="175.80" stroke="#1c1c1c" stroke-width="1.5"/>
<line x1="552.51" y1="257.55" x2="552.51" y2="253.95" stroke="#1c1c1c" stroke-width="1.5"/>
<line x1="552.51" y1="173.60" x2="552.51" y2="177.20" stroke="#1c1c1c" stroke-width="1.5"/>
<line x1="573.38" y1="257.55" x2="573.38" y2="255.35" stroke="#1c1c1c" stroke-width="1.5"/>
<line x1="573.38" y1="173.60" x2="573.38" y2="175.80" stroke="#1c1c1c" stroke-width="1.5"/>
<line x1="585.59" y1="257.55" x2="585.59" y2="255.35" stroke="#1c1c1c" stroke-width="1.5"/>
<line x1="585.59" y1="173.60" x2="585.59" y2="175.80" stroke="#1c1c1c" stroke-width="1.5"/>
<line x1="594.25" y1="257.55" x2="594.25" y2="255.35" stroke="#1c1c1c" stroke-width="1.5"/>
<line x1="594.25" y1="173.60" x2="594.25" y2="175.80" stroke="#1c1c1c" stroke-width="1.5"/>
<line x1="600.97" y1="257.55" x2="600.97" y2="255.35" stroke="#1c1c1c" stroke-width="1.5"/>
<line x1="600.97" y1="173.60" x2="600.97" y2="175.80" stroke="#1c1c1c" stroke-width="1.5"/>
<line x1="606.46" y1="257.55" x2="606.46" y2="255.35" stroke="#1c1c1c" stroke-width="1.5"/>
<line x1="606.46" y1="173.60" x2="606.46" y2="175.80" stroke="#1c1c1c" stroke-width="1.5"/>
<line x1="611.10" y1="257.55" x2="611.10" y2="255.35" stroke="#1c1c1c" stroke-width="1.5"/>
<line x1="611.10" y1="173.60" x2="611.10" y2="175.80" stroke="#1c1c1c" stroke-width="1.5"/>
<line x1="615.12" y1="257.55" x2="615.12" y2="255.35" stroke="#1c1c1c" stroke-width="1.5"/>
<line x1="615.12" y1="173.60" x2="615.12" y2="175.80" stroke="#1c1c1c" stroke-width="1.5"/>
<line x1="618.67" y1="257.55" x2="618.67" y2="255.35" stroke="#1c1c1c" stroke-width="1.5"/>
<line x1="618.67" y1="173.60" x2="618.67" y2="175.80" stroke="#1c1c1c" stroke-width="1.5"/>
<line x1="621.84" y1="257.55" x2="621.84" y2="253.95" stroke="#1c1c1c" stroke-width="1.5"/>
<line x1="621.84" y1="173.60" x2="621.84" y2="177.20" stroke="#1c1c1c" stroke-width="1.5"/>
<line x1="642.71" y1="257.55" x2="642.71" y2="255.35" stroke="#1c1c1c" stroke-width="1.5"/>
<line x1="642.71" y1="173.60" x2="642.71" y2="175.80" stroke="#1c1c1c" stroke-width="1.5"/>
<line x1="654.92" y1="257.55" x2="654.92" y2="255.35" stroke="#1c1c1c" stroke-width="1.5"/>
<line x1="654.92" y1="173.60" x2="654.92" y2="175.80" stroke="#1c1c1c" stroke-width="1.5"/>
<line x1="663.58" y1="257.55" x2="663.58" y2="255.35" stroke="#1c1c1c" stroke-width="1.5"/>
<line x1="663.58" y1="173.60" x2="663.58" y2="175.80" stroke="#1c1c1c" stroke-width="1.5"/>
<line x1="670.30" y1="257.55" x2="670.30" y2="255.35" stroke="#1c1c1c" stroke-width="1.5"/>
<line x1="670.30" y1="173.60" x2="670.30" y2="175.80" stroke="#1c1c1c" stroke-width="1.5"/>
<line x1="675.79" y1="257.55" x2="675.79" y2="255.35" stroke="#1c1c1c" stroke-width="1.5"/>
<line x1="675.79" y1="173.60" x2="675.79" y2="175.80" stroke="#1c1c1c" stroke-width="1.5"/>
<line x1="680.43" y1="257.55" x2="680.43" y2="255.35" stroke="#1c1c1c" stroke-width="1.5"/>
<line x1="680.43" y1="173.60" x2="680.43" y2="175.80" stroke="#1c1c1c" stroke-width="1.5"/>
<line x1="684.45" y1="257.55" x2="684.45" y2="255.35" stroke="#1c1c1c" stroke-width="1.5"/>
<line x1="684.45" y1="173.60" x2="684.45" y2="175.80" stroke="#1c1c1c" stroke-width="1.5"/>
<line x1="688.00" y1="257.55" x2="688.00" y2="255.35" stroke="#1c1c1c" stroke-width="1.5"/>
<line x1="688.00" y1="173.60" x2="688.00" y2="175.80" stroke="#1c1c1c" stroke-width="1.5"/>
<line x1="691.17" y1="257.55" x2="691.17" y2="253.95" stroke="#1c1c1c" stroke-width="1.5"/>
<line x1="691.17" y1="173.60" x2="691.17" y2="177.20" stroke="#1c1c1c" stroke-width="1.5"/>
<line x1="712.04" y1="257.55" x2="712.04" y2="255.35" stroke="#1c1c1c" stroke-width="1.5"/>
<line x1="712.04" y1="173.60" x2="712.04" y2="175.80" stroke="#1c1c1c" stroke-width="1.5"/>
<line x1="413.85" y1="194.59" x2="417.45" y2="194.59" stroke="#1c1c1c" stroke-width="1.5"/>
<line x1="724.25" y1="194.59" x2="720.65" y2="194.59" stroke="#1c1c1c" stroke-width="1.5"/>
<line x1="413.85" y1="215.57" x2="417.45" y2="215.57" stroke="#1c1c1c" stroke-width="1.5"/>
<line x1="724.25" y1="215.57" x2="720.65" y2="215.57" stroke="#1c1c1c" stroke-width="1.5"/>
<line x1="413.85" y1="236.56" x2="417.45" y2="236.56" stroke="#1c1c1c" stroke-width="1.5"/>
<line x1="724.25" y1="236.56" x2="720.65" y2="236.56" stroke="#1c1c1c" stroke-width="1.5"/>
<line x1="413.25" y1="5.20" x2="724.85" y2="5.20" stroke="#1c1c1c" stroke-width="1.5"/>
<line x1="413.25" y1="89.25" x2="724.85" y2="89.25" stroke="#1c1c1c" stroke-width="1.5"/>
<line x1="413.25" y1="173.60" x2="724.85" y2="173.60" stroke="#1c1c1c" stroke-width="1.5"/>
<line x1="413.25" y1="257.55" x2="724.85" y2="257.55" stroke="#1c1c1c" stroke-width="1.5"/>
<line x1="413.85" y1="5.20" x2="413.85" y2="257.55" stroke="#1c1c1c" stroke-width="1.5"/>
<line x1="724.25" y1="5.20" x2="724.25" y2="257.55" stroke="#1c1c1c" stroke-width="1.5"/>
<text x="409.95" y="11.10" font-size="10.4" text-anchor="end">10<tspan font-size="7.3" dy="-5.0">5</tspan></text>
<text x="409.95" y="32.11" font-size="10.4" text-anchor="end">10<tspan font-size="7.3" dy="-5.0">2</tspan></text>
<text x="409.25" y="53.12" font-size="10.4" text-anchor="end">10<tspan font-size="7.3" dy="-5.0" dx="0.6">-</tspan><tspan font-size="7.3">1</tspan></text>
<text x="409.25" y="74.14" font-size="10.4" text-anchor="end">10<tspan font-size="7.3" dy="-5.0" dx="0.6">-</tspan><tspan font-size="7.3">4</tspan></text>
<text x="409.25" y="95.15" font-size="10.4" text-anchor="end">10<tspan font-size="7.3" dy="-5.0" dx="0.6">-</tspan><tspan font-size="7.3">7</tspan></text>
<text x="409.95" y="111.02" font-size="10.4" text-anchor="end" >0.6</text>
<text x="409.95" y="127.89" font-size="10.4" text-anchor="end" >0.4</text>
<text x="409.95" y="144.76" font-size="10.4" text-anchor="end" >0.2</text>
<text x="409.95" y="161.63" font-size="10.4" text-anchor="end" >0.0</text>
<text x="409.95" y="178.50" font-size="10.4" text-anchor="end" >120</text>
<text x="409.95" y="199.49" font-size="10.4" text-anchor="end" >60</text>
<text x="409.95" y="220.47" font-size="10.4" text-anchor="end" >0</text>
<text x="409.95" y="241.46" font-size="10.4" text-anchor="end" >-60</text>
<text x="409.95" y="262.45" font-size="10.4" text-anchor="end" >-120</text>
<text x="413.85" y="274.80" font-size="10.4" text-anchor="middle">10<tspan font-size="7.3" dy="-5.1">1</tspan></text>
<text x="483.18" y="274.80" font-size="10.4" text-anchor="middle">10<tspan font-size="7.3" dy="-5.1">2</tspan></text>
<text x="552.51" y="274.80" font-size="10.4" text-anchor="middle">10<tspan font-size="7.3" dy="-5.1">3</tspan></text>
<text x="621.84" y="274.80" font-size="10.4" text-anchor="middle">10<tspan font-size="7.3" dy="-5.1">4</tspan></text>
<text x="691.17" y="274.80" font-size="10.4" text-anchor="middle">10<tspan font-size="7.3" dy="-5.1">5</tspan></text>
<text x="568.75" y="290.6" font-size="11.0" text-anchor="middle"><tspan font-style="italic">t</tspan> [s]</text>
<text x="0" y="0" font-size="11.4" text-anchor="middle" letter-spacing="0.25" word-spacing="0.6" transform="translate(382.35,48.43) rotate(-90)">Flux Density [<tspan font-style="italic">&#956;</tspan>Jy]</text>
<text x="0" y="0" font-size="11.4" text-anchor="middle" transform="translate(382.35,132.23) rotate(-90)">PD</text>
<text x="0" y="0" font-size="11.4" text-anchor="middle" transform="translate(382.35,216.38) rotate(-90)">PA [degree]</text>
<line x1="198.15" y1="59.00" x2="227.65" y2="59.00" stroke="#7E2F8E" stroke-width="1.5"/>
<text x="230.75" y="61.80" font-size="8.0" font-style="italic">&#952;</text>
<text x="233.75" y="65.90" font-size="6.7">obs</text>
<text x="245.05" y="61.80" font-size="7.6">=</text>
<text x="251.75" y="61.80" font-size="8.1">0.0</text>
<text x="263.75" y="58.50" font-size="7">&#176;</text>
<line x1="198.15" y1="75.30" x2="227.65" y2="75.30" stroke="#EDB120" stroke-width="1.5"/>
<text x="230.75" y="78.10" font-size="8.0" font-style="italic">&#952;</text>
<text x="233.75" y="82.20" font-size="6.7">obs</text>
<text x="245.05" y="78.10" font-size="7.6">=</text>
<text x="251.75" y="78.10" font-size="8.1">1.0</text>
<text x="263.75" y="74.80" font-size="7">&#176;</text>
<line x1="271.45" y1="59.00" x2="300.95" y2="59.00" stroke="#D95319" stroke-width="1.5"/>
<text x="304.05" y="61.80" font-size="8.0" font-style="italic">&#952;</text>
<text x="307.05" y="65.90" font-size="6.7">obs</text>
<text x="318.35" y="61.80" font-size="7.6">=</text>
<text x="325.05" y="61.80" font-size="8.1">2.0</text>
<text x="337.05" y="58.50" font-size="7">&#176;</text>
<line x1="271.45" y1="75.30" x2="300.95" y2="75.30" stroke="#0072BD" stroke-width="1.5"/>
<text x="304.05" y="78.10" font-size="8.0" font-style="italic">&#952;</text>
<text x="307.05" y="82.20" font-size="6.7">obs</text>
<text x="318.35" y="78.10" font-size="7.6">=</text>
<text x="325.05" y="78.10" font-size="8.1">7.0</text>
<text x="337.05" y="74.80" font-size="7">&#176;</text>
<line x1="572.65" y1="59.00" x2="602.15" y2="59.00" stroke="#7E2F8E" stroke-width="1.5"/>
<text x="605.25" y="61.80" font-size="8.0" font-style="italic">&#952;</text>
<text x="608.25" y="65.90" font-size="6.7">obs</text>
<text x="619.55" y="61.80" font-size="7.6">=</text>
<text x="626.25" y="61.80" font-size="8.1">0.0</text>
<text x="638.25" y="58.50" font-size="7">&#176;</text>
<line x1="572.65" y1="75.30" x2="602.15" y2="75.30" stroke="#EDB120" stroke-width="1.5"/>
<text x="605.25" y="78.10" font-size="8.0" font-style="italic">&#952;</text>
<text x="608.25" y="82.20" font-size="6.7">obs</text>
<text x="619.55" y="78.10" font-size="7.6">=</text>
<text x="626.25" y="78.10" font-size="8.1">1.0</text>
<text x="638.25" y="74.80" font-size="7">&#176;</text>
<line x1="645.95" y1="59.00" x2="675.45" y2="59.00" stroke="#D95319" stroke-width="1.5"/>
<text x="678.55" y="61.80" font-size="8.0" font-style="italic">&#952;</text>
<text x="681.55" y="65.90" font-size="6.7">obs</text>
<text x="692.85" y="61.80" font-size="7.6">=</text>
<text x="699.55" y="61.80" font-size="8.1">2.0</text>
<text x="711.55" y="58.50" font-size="7">&#176;</text>
<line x1="645.95" y1="75.30" x2="675.45" y2="75.30" stroke="#0072BD" stroke-width="1.5"/>
<text x="678.55" y="78.10" font-size="8.0" font-style="italic">&#952;</text>
<text x="681.55" y="82.20" font-size="6.7">obs</text>
<text x="692.85" y="78.10" font-size="7.6">=</text>
<text x="699.55" y="78.10" font-size="8.1">7.0</text>
<text x="711.55" y="74.80" font-size="7">&#176;</text>
</svg>
</body></html>
